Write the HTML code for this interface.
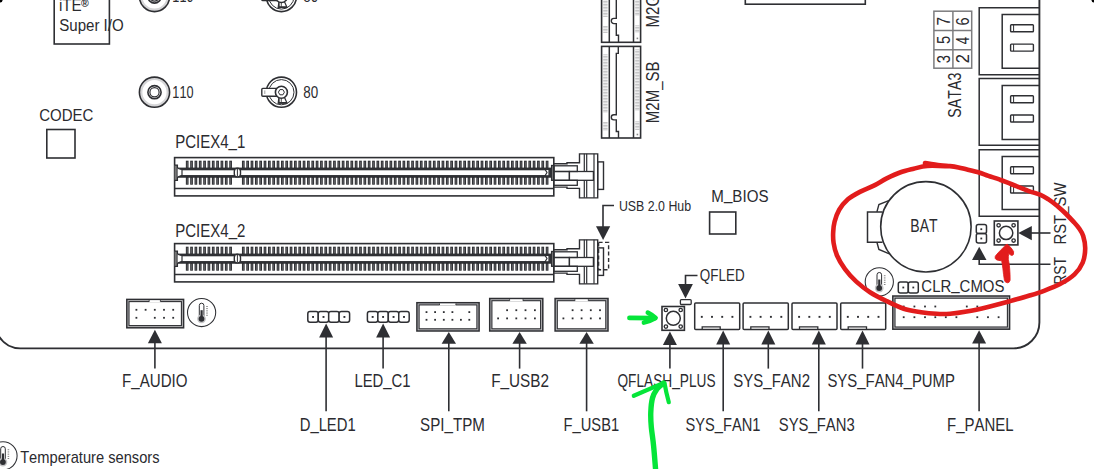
<!DOCTYPE html>
<html><head><meta charset="utf-8"><style>
html,body{margin:0;padding:0;background:#fff;}
body{width:1094px;height:469px;overflow:hidden;}
svg{display:block;}
text{font-family:"Liberation Sans",sans-serif;font-kerning:none;}
</style></head><body>
<svg width="1094" height="469" viewBox="0 0 1094 469">
<rect width="1094" height="469" fill="#fff"/>
<path d="M1039.4 -2 L1039.4 322.5 A25.8 25.8 0 0 1 1013.6 348.35 L21 348.35 A25.3 25.3 0 0 1 -1 336.5" fill="none" stroke="#2e2f33" stroke-width="1.9"/>
<rect x="54.20" y="-6.00" width="55.20" height="50.00" rx="0" fill="none" stroke="#2e2f33" stroke-width="1.6" />
<text x="58.88" y="10.80" font-size="16.8" textLength="22.77" lengthAdjust="spacingAndGlyphs" fill="#2b2b2f" >iTE</text>
<text x="81.0" y="7.2" font-size="10.5" font-weight="bold" fill="#2b2b2f">®</text>
<text x="59.22" y="30.60" font-size="16.8" textLength="64.51" lengthAdjust="spacingAndGlyphs" fill="#2b2b2f" >Super I/O</text>
<circle cx="154.5" cy="-3.5" r="13.4" fill="none" stroke="#d6d6d8" stroke-width="2.6"/>
<circle cx="154.5" cy="-3.5" r="15.1" fill="none" stroke="#2e2f33" stroke-width="1.6"/>
<circle cx="154.5" cy="-3.5" r="6.6" fill="none" stroke="#2e2f33" stroke-width="1.6"/>
<circle cx="154.5" cy="-3.5" r="4.6" fill="none" stroke="#2e2f33" stroke-width="1.2"/>
<circle cx="154.5" cy="92.2" r="13.4" fill="none" stroke="#d6d6d8" stroke-width="2.6"/>
<circle cx="154.5" cy="92.2" r="15.1" fill="none" stroke="#2e2f33" stroke-width="1.6"/>
<circle cx="154.5" cy="92.2" r="6.6" fill="none" stroke="#2e2f33" stroke-width="1.6"/>
<circle cx="154.5" cy="92.2" r="4.6" fill="none" stroke="#2e2f33" stroke-width="1.2"/>
<circle cx="281.4" cy="-3.5" r="15.1" fill="none" stroke="#2e2f33" stroke-width="1.6"/>
<circle cx="281.4" cy="-3.5" r="12.6" fill="none" stroke="#2e2f33" stroke-width="1.0"/>
<path d="M278.9 1.5 L278.2 7.4 L287.0 7.4 L284.4 1.5 Z" fill="#fff" stroke="#2e2f33" stroke-width="1.2"/>
<path d="M279.79999999999995 2.5 L279.5 7.0 M281.5 2.5 L281.29999999999995 7.0" stroke="#555" stroke-width="0.9"/>
<path d="M278.2 7.1 L287.0 7.1" stroke="#2e2f33" stroke-width="1.6"/>
<rect x="261.79999999999995" y="-7.3" width="15.6" height="7.8" rx="1" fill="#fff" stroke="#2e2f33" stroke-width="1.4"/>
<line x1="264.79999999999995" y1="-5.3" x2="264.79999999999995" y2="-1.7" stroke="#888" stroke-width="0.8"/>
<circle cx="281.4" cy="-3.5" r="6" fill="#fff" stroke="#2e2f33" stroke-width="1.6"/>
<path d="M278.4 -3.5 L279.9 -6.1 L282.9 -6.1 L284.4 -3.5 L282.9 -0.8999999999999999 L279.9 -0.8999999999999999 Z" fill="none" stroke="#2e2f33" stroke-width="1.0"/>
<circle cx="281.4" cy="92.2" r="15.1" fill="none" stroke="#2e2f33" stroke-width="1.6"/>
<circle cx="281.4" cy="92.2" r="12.6" fill="none" stroke="#2e2f33" stroke-width="1.0"/>
<path d="M278.9 97.2 L278.2 103.10000000000001 L287.0 103.10000000000001 L284.4 97.2 Z" fill="#fff" stroke="#2e2f33" stroke-width="1.2"/>
<path d="M279.79999999999995 98.2 L279.5 102.7 M281.5 98.2 L281.29999999999995 102.7" stroke="#555" stroke-width="0.9"/>
<path d="M278.2 102.8 L287.0 102.8" stroke="#2e2f33" stroke-width="1.6"/>
<rect x="261.79999999999995" y="88.4" width="15.6" height="7.8" rx="1" fill="#fff" stroke="#2e2f33" stroke-width="1.4"/>
<line x1="264.79999999999995" y1="90.4" x2="264.79999999999995" y2="94.0" stroke="#888" stroke-width="0.8"/>
<circle cx="281.4" cy="92.2" r="6" fill="#fff" stroke="#2e2f33" stroke-width="1.6"/>
<path d="M278.4 92.2 L279.9 89.60000000000001 L282.9 89.60000000000001 L284.4 92.2 L282.9 94.8 L279.9 94.8 Z" fill="none" stroke="#2e2f33" stroke-width="1.0"/>
<text x="172.33" y="97.60" font-size="16" textLength="21.16" lengthAdjust="spacingAndGlyphs" fill="#2b2b2f" >110</text>
<text x="172.33" y="1.90" font-size="16" textLength="21.16" lengthAdjust="spacingAndGlyphs" fill="#2b2b2f" >110</text>
<text x="303.22" y="97.60" font-size="16" textLength="14.91" lengthAdjust="spacingAndGlyphs" fill="#2b2b2f" >80</text>
<text x="303.22" y="1.90" font-size="16" textLength="14.91" lengthAdjust="spacingAndGlyphs" fill="#2b2b2f" >80</text>
<text x="39.14" y="121.00" font-size="16.6" textLength="54.23" lengthAdjust="spacingAndGlyphs" fill="#2b2b2f" >CODEC</text>
<rect x="46.80" y="129.50" width="28.20" height="28.50" rx="0" fill="none" stroke="#2e2f33" stroke-width="1.6" />
<rect x="745.30" y="-10.00" width="120.00" height="14.20" rx="0" fill="none" stroke="#2e2f33" stroke-width="1.6" />
<text x="175.17" y="148.30" font-size="18.2" textLength="70.17" lengthAdjust="spacingAndGlyphs" fill="#2b2b2f" >PCIEX4<tspan dy="-2.1">_</tspan><tspan dy="2.1">1</tspan></text>
<rect x="174.60" y="157.60" width="379.20" height="38.30" rx="0" fill="none" stroke="#2e2f33" stroke-width="1.6" />
<line x1="174.6" y1="188.4" x2="553.8" y2="188.4" stroke="#2e2f33" stroke-width="1.5" />
<rect x="185.85" y="160.70" width="2.70" height="8.00" fill="#2e2f33" />
<rect x="185.85" y="176.90" width="2.70" height="7.80" fill="#2e2f33" />
<rect x="186.85" y="161.70" width="0.70" height="6.00" fill="#707074" />
<rect x="186.85" y="178.10" width="0.70" height="6.00" fill="#707074" />
<rect x="190.19" y="160.70" width="2.70" height="8.00" fill="#2e2f33" />
<rect x="190.19" y="176.90" width="2.70" height="7.80" fill="#2e2f33" />
<rect x="191.19" y="161.70" width="0.70" height="6.00" fill="#707074" />
<rect x="191.19" y="178.10" width="0.70" height="6.00" fill="#707074" />
<rect x="194.53" y="160.70" width="2.70" height="8.00" fill="#2e2f33" />
<rect x="194.53" y="176.90" width="2.70" height="7.80" fill="#2e2f33" />
<rect x="195.53" y="161.70" width="0.70" height="6.00" fill="#707074" />
<rect x="195.53" y="178.10" width="0.70" height="6.00" fill="#707074" />
<rect x="198.87" y="160.70" width="2.70" height="8.00" fill="#2e2f33" />
<rect x="198.87" y="176.90" width="2.70" height="7.80" fill="#2e2f33" />
<rect x="199.87" y="161.70" width="0.70" height="6.00" fill="#707074" />
<rect x="199.87" y="178.10" width="0.70" height="6.00" fill="#707074" />
<rect x="203.21" y="160.70" width="2.70" height="8.00" fill="#2e2f33" />
<rect x="203.21" y="176.90" width="2.70" height="7.80" fill="#2e2f33" />
<rect x="204.21" y="161.70" width="0.70" height="6.00" fill="#707074" />
<rect x="204.21" y="178.10" width="0.70" height="6.00" fill="#707074" />
<rect x="207.55" y="160.70" width="2.70" height="8.00" fill="#2e2f33" />
<rect x="207.55" y="176.90" width="2.70" height="7.80" fill="#2e2f33" />
<rect x="208.55" y="161.70" width="0.70" height="6.00" fill="#707074" />
<rect x="208.55" y="178.10" width="0.70" height="6.00" fill="#707074" />
<rect x="211.89" y="160.70" width="2.70" height="8.00" fill="#2e2f33" />
<rect x="211.89" y="176.90" width="2.70" height="7.80" fill="#2e2f33" />
<rect x="212.89" y="161.70" width="0.70" height="6.00" fill="#707074" />
<rect x="212.89" y="178.10" width="0.70" height="6.00" fill="#707074" />
<rect x="216.23" y="160.70" width="2.70" height="8.00" fill="#2e2f33" />
<rect x="216.23" y="176.90" width="2.70" height="7.80" fill="#2e2f33" />
<rect x="217.23" y="161.70" width="0.70" height="6.00" fill="#707074" />
<rect x="217.23" y="178.10" width="0.70" height="6.00" fill="#707074" />
<rect x="220.57" y="160.70" width="2.70" height="8.00" fill="#2e2f33" />
<rect x="220.57" y="176.90" width="2.70" height="7.80" fill="#2e2f33" />
<rect x="221.57" y="161.70" width="0.70" height="6.00" fill="#707074" />
<rect x="221.57" y="178.10" width="0.70" height="6.00" fill="#707074" />
<rect x="224.91" y="160.70" width="2.70" height="8.00" fill="#2e2f33" />
<rect x="224.91" y="176.90" width="2.70" height="7.80" fill="#2e2f33" />
<rect x="225.91" y="161.70" width="0.70" height="6.00" fill="#707074" />
<rect x="225.91" y="178.10" width="0.70" height="6.00" fill="#707074" />
<rect x="229.25" y="160.70" width="2.70" height="8.00" fill="#2e2f33" />
<rect x="229.25" y="176.90" width="2.70" height="7.80" fill="#2e2f33" />
<rect x="230.25" y="161.70" width="0.70" height="6.00" fill="#707074" />
<rect x="230.25" y="178.10" width="0.70" height="6.00" fill="#707074" />
<rect x="241.95" y="160.70" width="2.70" height="8.00" fill="#2e2f33" />
<rect x="241.95" y="176.90" width="2.70" height="7.80" fill="#2e2f33" />
<rect x="242.95" y="161.70" width="0.70" height="6.00" fill="#707074" />
<rect x="242.95" y="178.10" width="0.70" height="6.00" fill="#707074" />
<rect x="246.29" y="160.70" width="2.70" height="8.00" fill="#2e2f33" />
<rect x="246.29" y="176.90" width="2.70" height="7.80" fill="#2e2f33" />
<rect x="247.29" y="161.70" width="0.70" height="6.00" fill="#707074" />
<rect x="247.29" y="178.10" width="0.70" height="6.00" fill="#707074" />
<rect x="250.63" y="160.70" width="2.70" height="8.00" fill="#2e2f33" />
<rect x="250.63" y="176.90" width="2.70" height="7.80" fill="#2e2f33" />
<rect x="251.63" y="161.70" width="0.70" height="6.00" fill="#707074" />
<rect x="251.63" y="178.10" width="0.70" height="6.00" fill="#707074" />
<rect x="254.97" y="160.70" width="2.70" height="8.00" fill="#2e2f33" />
<rect x="254.97" y="176.90" width="2.70" height="7.80" fill="#2e2f33" />
<rect x="255.97" y="161.70" width="0.70" height="6.00" fill="#707074" />
<rect x="255.97" y="178.10" width="0.70" height="6.00" fill="#707074" />
<rect x="259.31" y="160.70" width="2.70" height="8.00" fill="#2e2f33" />
<rect x="259.31" y="176.90" width="2.70" height="7.80" fill="#2e2f33" />
<rect x="260.31" y="161.70" width="0.70" height="6.00" fill="#707074" />
<rect x="260.31" y="178.10" width="0.70" height="6.00" fill="#707074" />
<rect x="263.65" y="160.70" width="2.70" height="8.00" fill="#2e2f33" />
<rect x="263.65" y="176.90" width="2.70" height="7.80" fill="#2e2f33" />
<rect x="264.65" y="161.70" width="0.70" height="6.00" fill="#707074" />
<rect x="264.65" y="178.10" width="0.70" height="6.00" fill="#707074" />
<rect x="267.99" y="160.70" width="2.70" height="8.00" fill="#2e2f33" />
<rect x="267.99" y="176.90" width="2.70" height="7.80" fill="#2e2f33" />
<rect x="268.99" y="161.70" width="0.70" height="6.00" fill="#707074" />
<rect x="268.99" y="178.10" width="0.70" height="6.00" fill="#707074" />
<rect x="272.33" y="160.70" width="2.70" height="8.00" fill="#2e2f33" />
<rect x="272.33" y="176.90" width="2.70" height="7.80" fill="#2e2f33" />
<rect x="273.33" y="161.70" width="0.70" height="6.00" fill="#707074" />
<rect x="273.33" y="178.10" width="0.70" height="6.00" fill="#707074" />
<rect x="276.67" y="160.70" width="2.70" height="8.00" fill="#2e2f33" />
<rect x="276.67" y="176.90" width="2.70" height="7.80" fill="#2e2f33" />
<rect x="277.67" y="161.70" width="0.70" height="6.00" fill="#707074" />
<rect x="277.67" y="178.10" width="0.70" height="6.00" fill="#707074" />
<rect x="281.01" y="160.70" width="2.70" height="8.00" fill="#2e2f33" />
<rect x="281.01" y="176.90" width="2.70" height="7.80" fill="#2e2f33" />
<rect x="282.01" y="161.70" width="0.70" height="6.00" fill="#707074" />
<rect x="282.01" y="178.10" width="0.70" height="6.00" fill="#707074" />
<rect x="285.35" y="160.70" width="2.70" height="8.00" fill="#2e2f33" />
<rect x="285.35" y="176.90" width="2.70" height="7.80" fill="#2e2f33" />
<rect x="286.35" y="161.70" width="0.70" height="6.00" fill="#707074" />
<rect x="286.35" y="178.10" width="0.70" height="6.00" fill="#707074" />
<rect x="289.69" y="160.70" width="2.70" height="8.00" fill="#2e2f33" />
<rect x="289.69" y="176.90" width="2.70" height="7.80" fill="#2e2f33" />
<rect x="290.69" y="161.70" width="0.70" height="6.00" fill="#707074" />
<rect x="290.69" y="178.10" width="0.70" height="6.00" fill="#707074" />
<rect x="294.03" y="160.70" width="2.70" height="8.00" fill="#2e2f33" />
<rect x="294.03" y="176.90" width="2.70" height="7.80" fill="#2e2f33" />
<rect x="295.03" y="161.70" width="0.70" height="6.00" fill="#707074" />
<rect x="295.03" y="178.10" width="0.70" height="6.00" fill="#707074" />
<rect x="298.37" y="160.70" width="2.70" height="8.00" fill="#2e2f33" />
<rect x="298.37" y="176.90" width="2.70" height="7.80" fill="#2e2f33" />
<rect x="299.37" y="161.70" width="0.70" height="6.00" fill="#707074" />
<rect x="299.37" y="178.10" width="0.70" height="6.00" fill="#707074" />
<rect x="302.71" y="160.70" width="2.70" height="8.00" fill="#2e2f33" />
<rect x="302.71" y="176.90" width="2.70" height="7.80" fill="#2e2f33" />
<rect x="303.71" y="161.70" width="0.70" height="6.00" fill="#707074" />
<rect x="303.71" y="178.10" width="0.70" height="6.00" fill="#707074" />
<rect x="307.05" y="160.70" width="2.70" height="8.00" fill="#2e2f33" />
<rect x="307.05" y="176.90" width="2.70" height="7.80" fill="#2e2f33" />
<rect x="308.05" y="161.70" width="0.70" height="6.00" fill="#707074" />
<rect x="308.05" y="178.10" width="0.70" height="6.00" fill="#707074" />
<rect x="311.39" y="160.70" width="2.70" height="8.00" fill="#2e2f33" />
<rect x="311.39" y="176.90" width="2.70" height="7.80" fill="#2e2f33" />
<rect x="312.39" y="161.70" width="0.70" height="6.00" fill="#707074" />
<rect x="312.39" y="178.10" width="0.70" height="6.00" fill="#707074" />
<rect x="315.73" y="160.70" width="2.70" height="8.00" fill="#2e2f33" />
<rect x="315.73" y="176.90" width="2.70" height="7.80" fill="#2e2f33" />
<rect x="316.73" y="161.70" width="0.70" height="6.00" fill="#707074" />
<rect x="316.73" y="178.10" width="0.70" height="6.00" fill="#707074" />
<rect x="320.07" y="160.70" width="2.70" height="8.00" fill="#2e2f33" />
<rect x="320.07" y="176.90" width="2.70" height="7.80" fill="#2e2f33" />
<rect x="321.07" y="161.70" width="0.70" height="6.00" fill="#707074" />
<rect x="321.07" y="178.10" width="0.70" height="6.00" fill="#707074" />
<rect x="324.41" y="160.70" width="2.70" height="8.00" fill="#2e2f33" />
<rect x="324.41" y="176.90" width="2.70" height="7.80" fill="#2e2f33" />
<rect x="325.41" y="161.70" width="0.70" height="6.00" fill="#707074" />
<rect x="325.41" y="178.10" width="0.70" height="6.00" fill="#707074" />
<rect x="328.75" y="160.70" width="2.70" height="8.00" fill="#2e2f33" />
<rect x="328.75" y="176.90" width="2.70" height="7.80" fill="#2e2f33" />
<rect x="329.75" y="161.70" width="0.70" height="6.00" fill="#707074" />
<rect x="329.75" y="178.10" width="0.70" height="6.00" fill="#707074" />
<rect x="333.09" y="160.70" width="2.70" height="8.00" fill="#2e2f33" />
<rect x="333.09" y="176.90" width="2.70" height="7.80" fill="#2e2f33" />
<rect x="334.09" y="161.70" width="0.70" height="6.00" fill="#707074" />
<rect x="334.09" y="178.10" width="0.70" height="6.00" fill="#707074" />
<rect x="337.43" y="160.70" width="2.70" height="8.00" fill="#2e2f33" />
<rect x="337.43" y="176.90" width="2.70" height="7.80" fill="#2e2f33" />
<rect x="338.43" y="161.70" width="0.70" height="6.00" fill="#707074" />
<rect x="338.43" y="178.10" width="0.70" height="6.00" fill="#707074" />
<rect x="341.77" y="160.70" width="2.70" height="8.00" fill="#2e2f33" />
<rect x="341.77" y="176.90" width="2.70" height="7.80" fill="#2e2f33" />
<rect x="342.77" y="161.70" width="0.70" height="6.00" fill="#707074" />
<rect x="342.77" y="178.10" width="0.70" height="6.00" fill="#707074" />
<rect x="346.11" y="160.70" width="2.70" height="8.00" fill="#2e2f33" />
<rect x="346.11" y="176.90" width="2.70" height="7.80" fill="#2e2f33" />
<rect x="347.11" y="161.70" width="0.70" height="6.00" fill="#707074" />
<rect x="347.11" y="178.10" width="0.70" height="6.00" fill="#707074" />
<rect x="350.45" y="160.70" width="2.70" height="8.00" fill="#2e2f33" />
<rect x="350.45" y="176.90" width="2.70" height="7.80" fill="#2e2f33" />
<rect x="351.45" y="161.70" width="0.70" height="6.00" fill="#707074" />
<rect x="351.45" y="178.10" width="0.70" height="6.00" fill="#707074" />
<rect x="354.79" y="160.70" width="2.70" height="8.00" fill="#2e2f33" />
<rect x="354.79" y="176.90" width="2.70" height="7.80" fill="#2e2f33" />
<rect x="355.79" y="161.70" width="0.70" height="6.00" fill="#707074" />
<rect x="355.79" y="178.10" width="0.70" height="6.00" fill="#707074" />
<rect x="359.13" y="160.70" width="2.70" height="8.00" fill="#2e2f33" />
<rect x="359.13" y="176.90" width="2.70" height="7.80" fill="#2e2f33" />
<rect x="360.13" y="161.70" width="0.70" height="6.00" fill="#707074" />
<rect x="360.13" y="178.10" width="0.70" height="6.00" fill="#707074" />
<rect x="363.47" y="160.70" width="2.70" height="8.00" fill="#2e2f33" />
<rect x="363.47" y="176.90" width="2.70" height="7.80" fill="#2e2f33" />
<rect x="364.47" y="161.70" width="0.70" height="6.00" fill="#707074" />
<rect x="364.47" y="178.10" width="0.70" height="6.00" fill="#707074" />
<rect x="367.81" y="160.70" width="2.70" height="8.00" fill="#2e2f33" />
<rect x="367.81" y="176.90" width="2.70" height="7.80" fill="#2e2f33" />
<rect x="368.81" y="161.70" width="0.70" height="6.00" fill="#707074" />
<rect x="368.81" y="178.10" width="0.70" height="6.00" fill="#707074" />
<rect x="372.15" y="160.70" width="2.70" height="8.00" fill="#2e2f33" />
<rect x="372.15" y="176.90" width="2.70" height="7.80" fill="#2e2f33" />
<rect x="373.15" y="161.70" width="0.70" height="6.00" fill="#707074" />
<rect x="373.15" y="178.10" width="0.70" height="6.00" fill="#707074" />
<rect x="376.49" y="160.70" width="2.70" height="8.00" fill="#2e2f33" />
<rect x="376.49" y="176.90" width="2.70" height="7.80" fill="#2e2f33" />
<rect x="377.49" y="161.70" width="0.70" height="6.00" fill="#707074" />
<rect x="377.49" y="178.10" width="0.70" height="6.00" fill="#707074" />
<rect x="380.83" y="160.70" width="2.70" height="8.00" fill="#2e2f33" />
<rect x="380.83" y="176.90" width="2.70" height="7.80" fill="#2e2f33" />
<rect x="381.83" y="161.70" width="0.70" height="6.00" fill="#707074" />
<rect x="381.83" y="178.10" width="0.70" height="6.00" fill="#707074" />
<rect x="385.17" y="160.70" width="2.70" height="8.00" fill="#2e2f33" />
<rect x="385.17" y="176.90" width="2.70" height="7.80" fill="#2e2f33" />
<rect x="386.17" y="161.70" width="0.70" height="6.00" fill="#707074" />
<rect x="386.17" y="178.10" width="0.70" height="6.00" fill="#707074" />
<rect x="389.51" y="160.70" width="2.70" height="8.00" fill="#2e2f33" />
<rect x="389.51" y="176.90" width="2.70" height="7.80" fill="#2e2f33" />
<rect x="390.51" y="161.70" width="0.70" height="6.00" fill="#707074" />
<rect x="390.51" y="178.10" width="0.70" height="6.00" fill="#707074" />
<rect x="393.85" y="160.70" width="2.70" height="8.00" fill="#2e2f33" />
<rect x="393.85" y="176.90" width="2.70" height="7.80" fill="#2e2f33" />
<rect x="394.85" y="161.70" width="0.70" height="6.00" fill="#707074" />
<rect x="394.85" y="178.10" width="0.70" height="6.00" fill="#707074" />
<rect x="398.19" y="160.70" width="2.70" height="8.00" fill="#2e2f33" />
<rect x="398.19" y="176.90" width="2.70" height="7.80" fill="#2e2f33" />
<rect x="399.19" y="161.70" width="0.70" height="6.00" fill="#707074" />
<rect x="399.19" y="178.10" width="0.70" height="6.00" fill="#707074" />
<rect x="402.53" y="160.70" width="2.70" height="8.00" fill="#2e2f33" />
<rect x="402.53" y="176.90" width="2.70" height="7.80" fill="#2e2f33" />
<rect x="403.53" y="161.70" width="0.70" height="6.00" fill="#707074" />
<rect x="403.53" y="178.10" width="0.70" height="6.00" fill="#707074" />
<rect x="406.87" y="160.70" width="2.70" height="8.00" fill="#2e2f33" />
<rect x="406.87" y="176.90" width="2.70" height="7.80" fill="#2e2f33" />
<rect x="407.87" y="161.70" width="0.70" height="6.00" fill="#707074" />
<rect x="407.87" y="178.10" width="0.70" height="6.00" fill="#707074" />
<rect x="411.21" y="160.70" width="2.70" height="8.00" fill="#2e2f33" />
<rect x="411.21" y="176.90" width="2.70" height="7.80" fill="#2e2f33" />
<rect x="412.21" y="161.70" width="0.70" height="6.00" fill="#707074" />
<rect x="412.21" y="178.10" width="0.70" height="6.00" fill="#707074" />
<rect x="415.55" y="160.70" width="2.70" height="8.00" fill="#2e2f33" />
<rect x="415.55" y="176.90" width="2.70" height="7.80" fill="#2e2f33" />
<rect x="416.55" y="161.70" width="0.70" height="6.00" fill="#707074" />
<rect x="416.55" y="178.10" width="0.70" height="6.00" fill="#707074" />
<rect x="419.89" y="160.70" width="2.70" height="8.00" fill="#2e2f33" />
<rect x="419.89" y="176.90" width="2.70" height="7.80" fill="#2e2f33" />
<rect x="420.89" y="161.70" width="0.70" height="6.00" fill="#707074" />
<rect x="420.89" y="178.10" width="0.70" height="6.00" fill="#707074" />
<rect x="424.23" y="160.70" width="2.70" height="8.00" fill="#2e2f33" />
<rect x="424.23" y="176.90" width="2.70" height="7.80" fill="#2e2f33" />
<rect x="425.23" y="161.70" width="0.70" height="6.00" fill="#707074" />
<rect x="425.23" y="178.10" width="0.70" height="6.00" fill="#707074" />
<rect x="428.57" y="160.70" width="2.70" height="8.00" fill="#2e2f33" />
<rect x="428.57" y="176.90" width="2.70" height="7.80" fill="#2e2f33" />
<rect x="429.57" y="161.70" width="0.70" height="6.00" fill="#707074" />
<rect x="429.57" y="178.10" width="0.70" height="6.00" fill="#707074" />
<rect x="432.91" y="160.70" width="2.70" height="8.00" fill="#2e2f33" />
<rect x="432.91" y="176.90" width="2.70" height="7.80" fill="#2e2f33" />
<rect x="433.91" y="161.70" width="0.70" height="6.00" fill="#707074" />
<rect x="433.91" y="178.10" width="0.70" height="6.00" fill="#707074" />
<rect x="437.25" y="160.70" width="2.70" height="8.00" fill="#2e2f33" />
<rect x="437.25" y="176.90" width="2.70" height="7.80" fill="#2e2f33" />
<rect x="438.25" y="161.70" width="0.70" height="6.00" fill="#707074" />
<rect x="438.25" y="178.10" width="0.70" height="6.00" fill="#707074" />
<rect x="441.59" y="160.70" width="2.70" height="8.00" fill="#2e2f33" />
<rect x="441.59" y="176.90" width="2.70" height="7.80" fill="#2e2f33" />
<rect x="442.59" y="161.70" width="0.70" height="6.00" fill="#707074" />
<rect x="442.59" y="178.10" width="0.70" height="6.00" fill="#707074" />
<rect x="445.93" y="160.70" width="2.70" height="8.00" fill="#2e2f33" />
<rect x="445.93" y="176.90" width="2.70" height="7.80" fill="#2e2f33" />
<rect x="446.93" y="161.70" width="0.70" height="6.00" fill="#707074" />
<rect x="446.93" y="178.10" width="0.70" height="6.00" fill="#707074" />
<rect x="450.27" y="160.70" width="2.70" height="8.00" fill="#2e2f33" />
<rect x="450.27" y="176.90" width="2.70" height="7.80" fill="#2e2f33" />
<rect x="451.27" y="161.70" width="0.70" height="6.00" fill="#707074" />
<rect x="451.27" y="178.10" width="0.70" height="6.00" fill="#707074" />
<rect x="454.61" y="160.70" width="2.70" height="8.00" fill="#2e2f33" />
<rect x="454.61" y="176.90" width="2.70" height="7.80" fill="#2e2f33" />
<rect x="455.61" y="161.70" width="0.70" height="6.00" fill="#707074" />
<rect x="455.61" y="178.10" width="0.70" height="6.00" fill="#707074" />
<rect x="458.95" y="160.70" width="2.70" height="8.00" fill="#2e2f33" />
<rect x="458.95" y="176.90" width="2.70" height="7.80" fill="#2e2f33" />
<rect x="459.95" y="161.70" width="0.70" height="6.00" fill="#707074" />
<rect x="459.95" y="178.10" width="0.70" height="6.00" fill="#707074" />
<rect x="463.29" y="160.70" width="2.70" height="8.00" fill="#2e2f33" />
<rect x="463.29" y="176.90" width="2.70" height="7.80" fill="#2e2f33" />
<rect x="464.29" y="161.70" width="0.70" height="6.00" fill="#707074" />
<rect x="464.29" y="178.10" width="0.70" height="6.00" fill="#707074" />
<rect x="467.63" y="160.70" width="2.70" height="8.00" fill="#2e2f33" />
<rect x="467.63" y="176.90" width="2.70" height="7.80" fill="#2e2f33" />
<rect x="468.63" y="161.70" width="0.70" height="6.00" fill="#707074" />
<rect x="468.63" y="178.10" width="0.70" height="6.00" fill="#707074" />
<rect x="471.97" y="160.70" width="2.70" height="8.00" fill="#2e2f33" />
<rect x="471.97" y="176.90" width="2.70" height="7.80" fill="#2e2f33" />
<rect x="472.97" y="161.70" width="0.70" height="6.00" fill="#707074" />
<rect x="472.97" y="178.10" width="0.70" height="6.00" fill="#707074" />
<rect x="476.31" y="160.70" width="2.70" height="8.00" fill="#2e2f33" />
<rect x="476.31" y="176.90" width="2.70" height="7.80" fill="#2e2f33" />
<rect x="477.31" y="161.70" width="0.70" height="6.00" fill="#707074" />
<rect x="477.31" y="178.10" width="0.70" height="6.00" fill="#707074" />
<rect x="480.65" y="160.70" width="2.70" height="8.00" fill="#2e2f33" />
<rect x="480.65" y="176.90" width="2.70" height="7.80" fill="#2e2f33" />
<rect x="481.65" y="161.70" width="0.70" height="6.00" fill="#707074" />
<rect x="481.65" y="178.10" width="0.70" height="6.00" fill="#707074" />
<rect x="484.99" y="160.70" width="2.70" height="8.00" fill="#2e2f33" />
<rect x="484.99" y="176.90" width="2.70" height="7.80" fill="#2e2f33" />
<rect x="485.99" y="161.70" width="0.70" height="6.00" fill="#707074" />
<rect x="485.99" y="178.10" width="0.70" height="6.00" fill="#707074" />
<rect x="489.33" y="160.70" width="2.70" height="8.00" fill="#2e2f33" />
<rect x="489.33" y="176.90" width="2.70" height="7.80" fill="#2e2f33" />
<rect x="490.33" y="161.70" width="0.70" height="6.00" fill="#707074" />
<rect x="490.33" y="178.10" width="0.70" height="6.00" fill="#707074" />
<rect x="493.67" y="160.70" width="2.70" height="8.00" fill="#2e2f33" />
<rect x="493.67" y="176.90" width="2.70" height="7.80" fill="#2e2f33" />
<rect x="494.67" y="161.70" width="0.70" height="6.00" fill="#707074" />
<rect x="494.67" y="178.10" width="0.70" height="6.00" fill="#707074" />
<rect x="498.01" y="160.70" width="2.70" height="8.00" fill="#2e2f33" />
<rect x="498.01" y="176.90" width="2.70" height="7.80" fill="#2e2f33" />
<rect x="499.01" y="161.70" width="0.70" height="6.00" fill="#707074" />
<rect x="499.01" y="178.10" width="0.70" height="6.00" fill="#707074" />
<rect x="502.35" y="160.70" width="2.70" height="8.00" fill="#2e2f33" />
<rect x="502.35" y="176.90" width="2.70" height="7.80" fill="#2e2f33" />
<rect x="503.35" y="161.70" width="0.70" height="6.00" fill="#707074" />
<rect x="503.35" y="178.10" width="0.70" height="6.00" fill="#707074" />
<rect x="506.69" y="160.70" width="2.70" height="8.00" fill="#2e2f33" />
<rect x="506.69" y="176.90" width="2.70" height="7.80" fill="#2e2f33" />
<rect x="507.69" y="161.70" width="0.70" height="6.00" fill="#707074" />
<rect x="507.69" y="178.10" width="0.70" height="6.00" fill="#707074" />
<rect x="511.03" y="160.70" width="2.70" height="8.00" fill="#2e2f33" />
<rect x="511.03" y="176.90" width="2.70" height="7.80" fill="#2e2f33" />
<rect x="512.03" y="161.70" width="0.70" height="6.00" fill="#707074" />
<rect x="512.03" y="178.10" width="0.70" height="6.00" fill="#707074" />
<rect x="515.37" y="160.70" width="2.70" height="8.00" fill="#2e2f33" />
<rect x="515.37" y="176.90" width="2.70" height="7.80" fill="#2e2f33" />
<rect x="516.37" y="161.70" width="0.70" height="6.00" fill="#707074" />
<rect x="516.37" y="178.10" width="0.70" height="6.00" fill="#707074" />
<rect x="519.71" y="160.70" width="2.70" height="8.00" fill="#2e2f33" />
<rect x="519.71" y="176.90" width="2.70" height="7.80" fill="#2e2f33" />
<rect x="520.71" y="161.70" width="0.70" height="6.00" fill="#707074" />
<rect x="520.71" y="178.10" width="0.70" height="6.00" fill="#707074" />
<rect x="524.05" y="160.70" width="2.70" height="8.00" fill="#2e2f33" />
<rect x="524.05" y="176.90" width="2.70" height="7.80" fill="#2e2f33" />
<rect x="525.05" y="161.70" width="0.70" height="6.00" fill="#707074" />
<rect x="525.05" y="178.10" width="0.70" height="6.00" fill="#707074" />
<rect x="528.39" y="160.70" width="2.70" height="8.00" fill="#2e2f33" />
<rect x="528.39" y="176.90" width="2.70" height="7.80" fill="#2e2f33" />
<rect x="529.39" y="161.70" width="0.70" height="6.00" fill="#707074" />
<rect x="529.39" y="178.10" width="0.70" height="6.00" fill="#707074" />
<rect x="532.73" y="160.70" width="2.70" height="8.00" fill="#2e2f33" />
<rect x="532.73" y="176.90" width="2.70" height="7.80" fill="#2e2f33" />
<rect x="533.73" y="161.70" width="0.70" height="6.00" fill="#707074" />
<rect x="533.73" y="178.10" width="0.70" height="6.00" fill="#707074" />
<rect x="537.07" y="160.70" width="2.70" height="8.00" fill="#2e2f33" />
<rect x="537.07" y="176.90" width="2.70" height="7.80" fill="#2e2f33" />
<rect x="538.07" y="161.70" width="0.70" height="6.00" fill="#707074" />
<rect x="538.07" y="178.10" width="0.70" height="6.00" fill="#707074" />
<rect x="541.41" y="160.70" width="2.70" height="8.00" fill="#2e2f33" />
<rect x="541.41" y="176.90" width="2.70" height="7.80" fill="#2e2f33" />
<rect x="542.41" y="161.70" width="0.70" height="6.00" fill="#707074" />
<rect x="542.41" y="178.10" width="0.70" height="6.00" fill="#707074" />
<rect x="545.75" y="160.70" width="2.70" height="8.00" fill="#2e2f33" />
<rect x="545.75" y="176.90" width="2.70" height="7.80" fill="#2e2f33" />
<rect x="546.75" y="161.70" width="0.70" height="6.00" fill="#707074" />
<rect x="546.75" y="178.10" width="0.70" height="6.00" fill="#707074" />
<rect x="179.5" y="168.95000000000002" width="371" height="7.45" fill="#fff" stroke="#2e2f33" stroke-width="2.7"/>
<rect x="234.3" y="168.20000000000002" width="6.2" height="8.7" rx="3" fill="#fff" stroke="#2e2f33" stroke-width="1.4"/>
<line x1="237.4" y1="168.8" x2="237.4" y2="176.3" stroke="#2e2f33" stroke-width="1.0" />
<path d="M174.6 165.10000000000002 L177.4 165.10000000000002 L177.4 180.3 L174.6 180.3" fill="#777" stroke="#2e2f33" stroke-width="1.3"/>
<path d="M177.6 168.10000000000002 L182 169.8 L182 175.3 L177.6 177.10000000000002" fill="#fff" stroke="#2e2f33" stroke-width="1.2"/>
<path d="M545 169.3 L549 169.3 L549 175.8 L545 175.8 L547 172.5 Z" fill="#fff" stroke="#2e2f33" stroke-width="1.2"/>
<path d="M553.8 163.70000000000002 L567.0 163.70000000000002 L567.0 162.70000000000002 L579.5 162.70000000000002 L579.5 153.85000000000002 L597.7 153.85000000000002 L597.7 197.85000000000002 L579.5 197.85000000000002 L579.5 188.4 L567.0 188.4 L567.0 187.10000000000002 L553.8 187.10000000000002" fill="none" stroke="#2e2f33" stroke-width="1.4"/>
<rect x="551.60" y="165.50" width="2.20" height="14.80" rx="0" fill="#888" stroke="#2e2f33" stroke-width="1.3" />
<rect x="553.80" y="165.80" width="23.50" height="5.70" rx="0" fill="none" stroke="#2e2f33" stroke-width="1.3" />
<rect x="553.80" y="180.30" width="23.50" height="5.00" rx="0" fill="none" stroke="#2e2f33" stroke-width="1.3" />
<rect x="553.80" y="171.50" width="15.60" height="8.80" rx="0" fill="none" stroke="#2e2f33" stroke-width="1.3" />
<rect x="569.40" y="171.50" width="24.00" height="8.80" rx="0" fill="none" stroke="#2e2f33" stroke-width="1.3" />
<line x1="584.3" y1="153.85000000000002" x2="584.3" y2="171.5" stroke="#2e2f33" stroke-width="1.2" />
<line x1="586.7" y1="153.85000000000002" x2="586.7" y2="171.5" stroke="#2e2f33" stroke-width="1.2" />
<line x1="584.3" y1="180.3" x2="584.3" y2="197.85000000000002" stroke="#2e2f33" stroke-width="1.2" />
<line x1="586.7" y1="180.3" x2="586.7" y2="197.85000000000002" stroke="#2e2f33" stroke-width="1.2" />
<line x1="594.0" y1="153.85000000000002" x2="594.0" y2="197.85000000000002" stroke="#2e2f33" stroke-width="1.2" />
<rect x="597.70" y="161.90" width="5.80" height="27.50" rx="0" fill="none" stroke="#2e2f33" stroke-width="1.4" />
<text x="175.17" y="236.60" font-size="18.2" textLength="70.19" lengthAdjust="spacingAndGlyphs" fill="#2b2b2f" >PCIEX4<tspan dy="-2.1">_</tspan><tspan dy="2.1">2</tspan></text>
<rect x="174.60" y="243.60" width="379.20" height="38.30" rx="0" fill="none" stroke="#2e2f33" stroke-width="1.6" />
<line x1="174.6" y1="274.40000000000003" x2="553.8" y2="274.40000000000003" stroke="#2e2f33" stroke-width="1.5" />
<rect x="185.85" y="246.70" width="2.70" height="8.00" fill="#2e2f33" />
<rect x="185.85" y="262.90" width="2.70" height="7.80" fill="#2e2f33" />
<rect x="186.85" y="247.70" width="0.70" height="6.00" fill="#707074" />
<rect x="186.85" y="264.10" width="0.70" height="6.00" fill="#707074" />
<rect x="190.19" y="246.70" width="2.70" height="8.00" fill="#2e2f33" />
<rect x="190.19" y="262.90" width="2.70" height="7.80" fill="#2e2f33" />
<rect x="191.19" y="247.70" width="0.70" height="6.00" fill="#707074" />
<rect x="191.19" y="264.10" width="0.70" height="6.00" fill="#707074" />
<rect x="194.53" y="246.70" width="2.70" height="8.00" fill="#2e2f33" />
<rect x="194.53" y="262.90" width="2.70" height="7.80" fill="#2e2f33" />
<rect x="195.53" y="247.70" width="0.70" height="6.00" fill="#707074" />
<rect x="195.53" y="264.10" width="0.70" height="6.00" fill="#707074" />
<rect x="198.87" y="246.70" width="2.70" height="8.00" fill="#2e2f33" />
<rect x="198.87" y="262.90" width="2.70" height="7.80" fill="#2e2f33" />
<rect x="199.87" y="247.70" width="0.70" height="6.00" fill="#707074" />
<rect x="199.87" y="264.10" width="0.70" height="6.00" fill="#707074" />
<rect x="203.21" y="246.70" width="2.70" height="8.00" fill="#2e2f33" />
<rect x="203.21" y="262.90" width="2.70" height="7.80" fill="#2e2f33" />
<rect x="204.21" y="247.70" width="0.70" height="6.00" fill="#707074" />
<rect x="204.21" y="264.10" width="0.70" height="6.00" fill="#707074" />
<rect x="207.55" y="246.70" width="2.70" height="8.00" fill="#2e2f33" />
<rect x="207.55" y="262.90" width="2.70" height="7.80" fill="#2e2f33" />
<rect x="208.55" y="247.70" width="0.70" height="6.00" fill="#707074" />
<rect x="208.55" y="264.10" width="0.70" height="6.00" fill="#707074" />
<rect x="211.89" y="246.70" width="2.70" height="8.00" fill="#2e2f33" />
<rect x="211.89" y="262.90" width="2.70" height="7.80" fill="#2e2f33" />
<rect x="212.89" y="247.70" width="0.70" height="6.00" fill="#707074" />
<rect x="212.89" y="264.10" width="0.70" height="6.00" fill="#707074" />
<rect x="216.23" y="246.70" width="2.70" height="8.00" fill="#2e2f33" />
<rect x="216.23" y="262.90" width="2.70" height="7.80" fill="#2e2f33" />
<rect x="217.23" y="247.70" width="0.70" height="6.00" fill="#707074" />
<rect x="217.23" y="264.10" width="0.70" height="6.00" fill="#707074" />
<rect x="220.57" y="246.70" width="2.70" height="8.00" fill="#2e2f33" />
<rect x="220.57" y="262.90" width="2.70" height="7.80" fill="#2e2f33" />
<rect x="221.57" y="247.70" width="0.70" height="6.00" fill="#707074" />
<rect x="221.57" y="264.10" width="0.70" height="6.00" fill="#707074" />
<rect x="224.91" y="246.70" width="2.70" height="8.00" fill="#2e2f33" />
<rect x="224.91" y="262.90" width="2.70" height="7.80" fill="#2e2f33" />
<rect x="225.91" y="247.70" width="0.70" height="6.00" fill="#707074" />
<rect x="225.91" y="264.10" width="0.70" height="6.00" fill="#707074" />
<rect x="229.25" y="246.70" width="2.70" height="8.00" fill="#2e2f33" />
<rect x="229.25" y="262.90" width="2.70" height="7.80" fill="#2e2f33" />
<rect x="230.25" y="247.70" width="0.70" height="6.00" fill="#707074" />
<rect x="230.25" y="264.10" width="0.70" height="6.00" fill="#707074" />
<rect x="241.95" y="246.70" width="2.70" height="8.00" fill="#2e2f33" />
<rect x="241.95" y="262.90" width="2.70" height="7.80" fill="#2e2f33" />
<rect x="242.95" y="247.70" width="0.70" height="6.00" fill="#707074" />
<rect x="242.95" y="264.10" width="0.70" height="6.00" fill="#707074" />
<rect x="246.29" y="246.70" width="2.70" height="8.00" fill="#2e2f33" />
<rect x="246.29" y="262.90" width="2.70" height="7.80" fill="#2e2f33" />
<rect x="247.29" y="247.70" width="0.70" height="6.00" fill="#707074" />
<rect x="247.29" y="264.10" width="0.70" height="6.00" fill="#707074" />
<rect x="250.63" y="246.70" width="2.70" height="8.00" fill="#2e2f33" />
<rect x="250.63" y="262.90" width="2.70" height="7.80" fill="#2e2f33" />
<rect x="251.63" y="247.70" width="0.70" height="6.00" fill="#707074" />
<rect x="251.63" y="264.10" width="0.70" height="6.00" fill="#707074" />
<rect x="254.97" y="246.70" width="2.70" height="8.00" fill="#2e2f33" />
<rect x="254.97" y="262.90" width="2.70" height="7.80" fill="#2e2f33" />
<rect x="255.97" y="247.70" width="0.70" height="6.00" fill="#707074" />
<rect x="255.97" y="264.10" width="0.70" height="6.00" fill="#707074" />
<rect x="259.31" y="246.70" width="2.70" height="8.00" fill="#2e2f33" />
<rect x="259.31" y="262.90" width="2.70" height="7.80" fill="#2e2f33" />
<rect x="260.31" y="247.70" width="0.70" height="6.00" fill="#707074" />
<rect x="260.31" y="264.10" width="0.70" height="6.00" fill="#707074" />
<rect x="263.65" y="246.70" width="2.70" height="8.00" fill="#2e2f33" />
<rect x="263.65" y="262.90" width="2.70" height="7.80" fill="#2e2f33" />
<rect x="264.65" y="247.70" width="0.70" height="6.00" fill="#707074" />
<rect x="264.65" y="264.10" width="0.70" height="6.00" fill="#707074" />
<rect x="267.99" y="246.70" width="2.70" height="8.00" fill="#2e2f33" />
<rect x="267.99" y="262.90" width="2.70" height="7.80" fill="#2e2f33" />
<rect x="268.99" y="247.70" width="0.70" height="6.00" fill="#707074" />
<rect x="268.99" y="264.10" width="0.70" height="6.00" fill="#707074" />
<rect x="272.33" y="246.70" width="2.70" height="8.00" fill="#2e2f33" />
<rect x="272.33" y="262.90" width="2.70" height="7.80" fill="#2e2f33" />
<rect x="273.33" y="247.70" width="0.70" height="6.00" fill="#707074" />
<rect x="273.33" y="264.10" width="0.70" height="6.00" fill="#707074" />
<rect x="276.67" y="246.70" width="2.70" height="8.00" fill="#2e2f33" />
<rect x="276.67" y="262.90" width="2.70" height="7.80" fill="#2e2f33" />
<rect x="277.67" y="247.70" width="0.70" height="6.00" fill="#707074" />
<rect x="277.67" y="264.10" width="0.70" height="6.00" fill="#707074" />
<rect x="281.01" y="246.70" width="2.70" height="8.00" fill="#2e2f33" />
<rect x="281.01" y="262.90" width="2.70" height="7.80" fill="#2e2f33" />
<rect x="282.01" y="247.70" width="0.70" height="6.00" fill="#707074" />
<rect x="282.01" y="264.10" width="0.70" height="6.00" fill="#707074" />
<rect x="285.35" y="246.70" width="2.70" height="8.00" fill="#2e2f33" />
<rect x="285.35" y="262.90" width="2.70" height="7.80" fill="#2e2f33" />
<rect x="286.35" y="247.70" width="0.70" height="6.00" fill="#707074" />
<rect x="286.35" y="264.10" width="0.70" height="6.00" fill="#707074" />
<rect x="289.69" y="246.70" width="2.70" height="8.00" fill="#2e2f33" />
<rect x="289.69" y="262.90" width="2.70" height="7.80" fill="#2e2f33" />
<rect x="290.69" y="247.70" width="0.70" height="6.00" fill="#707074" />
<rect x="290.69" y="264.10" width="0.70" height="6.00" fill="#707074" />
<rect x="294.03" y="246.70" width="2.70" height="8.00" fill="#2e2f33" />
<rect x="294.03" y="262.90" width="2.70" height="7.80" fill="#2e2f33" />
<rect x="295.03" y="247.70" width="0.70" height="6.00" fill="#707074" />
<rect x="295.03" y="264.10" width="0.70" height="6.00" fill="#707074" />
<rect x="298.37" y="246.70" width="2.70" height="8.00" fill="#2e2f33" />
<rect x="298.37" y="262.90" width="2.70" height="7.80" fill="#2e2f33" />
<rect x="299.37" y="247.70" width="0.70" height="6.00" fill="#707074" />
<rect x="299.37" y="264.10" width="0.70" height="6.00" fill="#707074" />
<rect x="302.71" y="246.70" width="2.70" height="8.00" fill="#2e2f33" />
<rect x="302.71" y="262.90" width="2.70" height="7.80" fill="#2e2f33" />
<rect x="303.71" y="247.70" width="0.70" height="6.00" fill="#707074" />
<rect x="303.71" y="264.10" width="0.70" height="6.00" fill="#707074" />
<rect x="307.05" y="246.70" width="2.70" height="8.00" fill="#2e2f33" />
<rect x="307.05" y="262.90" width="2.70" height="7.80" fill="#2e2f33" />
<rect x="308.05" y="247.70" width="0.70" height="6.00" fill="#707074" />
<rect x="308.05" y="264.10" width="0.70" height="6.00" fill="#707074" />
<rect x="311.39" y="246.70" width="2.70" height="8.00" fill="#2e2f33" />
<rect x="311.39" y="262.90" width="2.70" height="7.80" fill="#2e2f33" />
<rect x="312.39" y="247.70" width="0.70" height="6.00" fill="#707074" />
<rect x="312.39" y="264.10" width="0.70" height="6.00" fill="#707074" />
<rect x="315.73" y="246.70" width="2.70" height="8.00" fill="#2e2f33" />
<rect x="315.73" y="262.90" width="2.70" height="7.80" fill="#2e2f33" />
<rect x="316.73" y="247.70" width="0.70" height="6.00" fill="#707074" />
<rect x="316.73" y="264.10" width="0.70" height="6.00" fill="#707074" />
<rect x="320.07" y="246.70" width="2.70" height="8.00" fill="#2e2f33" />
<rect x="320.07" y="262.90" width="2.70" height="7.80" fill="#2e2f33" />
<rect x="321.07" y="247.70" width="0.70" height="6.00" fill="#707074" />
<rect x="321.07" y="264.10" width="0.70" height="6.00" fill="#707074" />
<rect x="324.41" y="246.70" width="2.70" height="8.00" fill="#2e2f33" />
<rect x="324.41" y="262.90" width="2.70" height="7.80" fill="#2e2f33" />
<rect x="325.41" y="247.70" width="0.70" height="6.00" fill="#707074" />
<rect x="325.41" y="264.10" width="0.70" height="6.00" fill="#707074" />
<rect x="328.75" y="246.70" width="2.70" height="8.00" fill="#2e2f33" />
<rect x="328.75" y="262.90" width="2.70" height="7.80" fill="#2e2f33" />
<rect x="329.75" y="247.70" width="0.70" height="6.00" fill="#707074" />
<rect x="329.75" y="264.10" width="0.70" height="6.00" fill="#707074" />
<rect x="333.09" y="246.70" width="2.70" height="8.00" fill="#2e2f33" />
<rect x="333.09" y="262.90" width="2.70" height="7.80" fill="#2e2f33" />
<rect x="334.09" y="247.70" width="0.70" height="6.00" fill="#707074" />
<rect x="334.09" y="264.10" width="0.70" height="6.00" fill="#707074" />
<rect x="337.43" y="246.70" width="2.70" height="8.00" fill="#2e2f33" />
<rect x="337.43" y="262.90" width="2.70" height="7.80" fill="#2e2f33" />
<rect x="338.43" y="247.70" width="0.70" height="6.00" fill="#707074" />
<rect x="338.43" y="264.10" width="0.70" height="6.00" fill="#707074" />
<rect x="341.77" y="246.70" width="2.70" height="8.00" fill="#2e2f33" />
<rect x="341.77" y="262.90" width="2.70" height="7.80" fill="#2e2f33" />
<rect x="342.77" y="247.70" width="0.70" height="6.00" fill="#707074" />
<rect x="342.77" y="264.10" width="0.70" height="6.00" fill="#707074" />
<rect x="346.11" y="246.70" width="2.70" height="8.00" fill="#2e2f33" />
<rect x="346.11" y="262.90" width="2.70" height="7.80" fill="#2e2f33" />
<rect x="347.11" y="247.70" width="0.70" height="6.00" fill="#707074" />
<rect x="347.11" y="264.10" width="0.70" height="6.00" fill="#707074" />
<rect x="350.45" y="246.70" width="2.70" height="8.00" fill="#2e2f33" />
<rect x="350.45" y="262.90" width="2.70" height="7.80" fill="#2e2f33" />
<rect x="351.45" y="247.70" width="0.70" height="6.00" fill="#707074" />
<rect x="351.45" y="264.10" width="0.70" height="6.00" fill="#707074" />
<rect x="354.79" y="246.70" width="2.70" height="8.00" fill="#2e2f33" />
<rect x="354.79" y="262.90" width="2.70" height="7.80" fill="#2e2f33" />
<rect x="355.79" y="247.70" width="0.70" height="6.00" fill="#707074" />
<rect x="355.79" y="264.10" width="0.70" height="6.00" fill="#707074" />
<rect x="359.13" y="246.70" width="2.70" height="8.00" fill="#2e2f33" />
<rect x="359.13" y="262.90" width="2.70" height="7.80" fill="#2e2f33" />
<rect x="360.13" y="247.70" width="0.70" height="6.00" fill="#707074" />
<rect x="360.13" y="264.10" width="0.70" height="6.00" fill="#707074" />
<rect x="363.47" y="246.70" width="2.70" height="8.00" fill="#2e2f33" />
<rect x="363.47" y="262.90" width="2.70" height="7.80" fill="#2e2f33" />
<rect x="364.47" y="247.70" width="0.70" height="6.00" fill="#707074" />
<rect x="364.47" y="264.10" width="0.70" height="6.00" fill="#707074" />
<rect x="367.81" y="246.70" width="2.70" height="8.00" fill="#2e2f33" />
<rect x="367.81" y="262.90" width="2.70" height="7.80" fill="#2e2f33" />
<rect x="368.81" y="247.70" width="0.70" height="6.00" fill="#707074" />
<rect x="368.81" y="264.10" width="0.70" height="6.00" fill="#707074" />
<rect x="372.15" y="246.70" width="2.70" height="8.00" fill="#2e2f33" />
<rect x="372.15" y="262.90" width="2.70" height="7.80" fill="#2e2f33" />
<rect x="373.15" y="247.70" width="0.70" height="6.00" fill="#707074" />
<rect x="373.15" y="264.10" width="0.70" height="6.00" fill="#707074" />
<rect x="376.49" y="246.70" width="2.70" height="8.00" fill="#2e2f33" />
<rect x="376.49" y="262.90" width="2.70" height="7.80" fill="#2e2f33" />
<rect x="377.49" y="247.70" width="0.70" height="6.00" fill="#707074" />
<rect x="377.49" y="264.10" width="0.70" height="6.00" fill="#707074" />
<rect x="380.83" y="246.70" width="2.70" height="8.00" fill="#2e2f33" />
<rect x="380.83" y="262.90" width="2.70" height="7.80" fill="#2e2f33" />
<rect x="381.83" y="247.70" width="0.70" height="6.00" fill="#707074" />
<rect x="381.83" y="264.10" width="0.70" height="6.00" fill="#707074" />
<rect x="385.17" y="246.70" width="2.70" height="8.00" fill="#2e2f33" />
<rect x="385.17" y="262.90" width="2.70" height="7.80" fill="#2e2f33" />
<rect x="386.17" y="247.70" width="0.70" height="6.00" fill="#707074" />
<rect x="386.17" y="264.10" width="0.70" height="6.00" fill="#707074" />
<rect x="389.51" y="246.70" width="2.70" height="8.00" fill="#2e2f33" />
<rect x="389.51" y="262.90" width="2.70" height="7.80" fill="#2e2f33" />
<rect x="390.51" y="247.70" width="0.70" height="6.00" fill="#707074" />
<rect x="390.51" y="264.10" width="0.70" height="6.00" fill="#707074" />
<rect x="393.85" y="246.70" width="2.70" height="8.00" fill="#2e2f33" />
<rect x="393.85" y="262.90" width="2.70" height="7.80" fill="#2e2f33" />
<rect x="394.85" y="247.70" width="0.70" height="6.00" fill="#707074" />
<rect x="394.85" y="264.10" width="0.70" height="6.00" fill="#707074" />
<rect x="398.19" y="246.70" width="2.70" height="8.00" fill="#2e2f33" />
<rect x="398.19" y="262.90" width="2.70" height="7.80" fill="#2e2f33" />
<rect x="399.19" y="247.70" width="0.70" height="6.00" fill="#707074" />
<rect x="399.19" y="264.10" width="0.70" height="6.00" fill="#707074" />
<rect x="402.53" y="246.70" width="2.70" height="8.00" fill="#2e2f33" />
<rect x="402.53" y="262.90" width="2.70" height="7.80" fill="#2e2f33" />
<rect x="403.53" y="247.70" width="0.70" height="6.00" fill="#707074" />
<rect x="403.53" y="264.10" width="0.70" height="6.00" fill="#707074" />
<rect x="406.87" y="246.70" width="2.70" height="8.00" fill="#2e2f33" />
<rect x="406.87" y="262.90" width="2.70" height="7.80" fill="#2e2f33" />
<rect x="407.87" y="247.70" width="0.70" height="6.00" fill="#707074" />
<rect x="407.87" y="264.10" width="0.70" height="6.00" fill="#707074" />
<rect x="411.21" y="246.70" width="2.70" height="8.00" fill="#2e2f33" />
<rect x="411.21" y="262.90" width="2.70" height="7.80" fill="#2e2f33" />
<rect x="412.21" y="247.70" width="0.70" height="6.00" fill="#707074" />
<rect x="412.21" y="264.10" width="0.70" height="6.00" fill="#707074" />
<rect x="415.55" y="246.70" width="2.70" height="8.00" fill="#2e2f33" />
<rect x="415.55" y="262.90" width="2.70" height="7.80" fill="#2e2f33" />
<rect x="416.55" y="247.70" width="0.70" height="6.00" fill="#707074" />
<rect x="416.55" y="264.10" width="0.70" height="6.00" fill="#707074" />
<rect x="419.89" y="246.70" width="2.70" height="8.00" fill="#2e2f33" />
<rect x="419.89" y="262.90" width="2.70" height="7.80" fill="#2e2f33" />
<rect x="420.89" y="247.70" width="0.70" height="6.00" fill="#707074" />
<rect x="420.89" y="264.10" width="0.70" height="6.00" fill="#707074" />
<rect x="424.23" y="246.70" width="2.70" height="8.00" fill="#2e2f33" />
<rect x="424.23" y="262.90" width="2.70" height="7.80" fill="#2e2f33" />
<rect x="425.23" y="247.70" width="0.70" height="6.00" fill="#707074" />
<rect x="425.23" y="264.10" width="0.70" height="6.00" fill="#707074" />
<rect x="428.57" y="246.70" width="2.70" height="8.00" fill="#2e2f33" />
<rect x="428.57" y="262.90" width="2.70" height="7.80" fill="#2e2f33" />
<rect x="429.57" y="247.70" width="0.70" height="6.00" fill="#707074" />
<rect x="429.57" y="264.10" width="0.70" height="6.00" fill="#707074" />
<rect x="432.91" y="246.70" width="2.70" height="8.00" fill="#2e2f33" />
<rect x="432.91" y="262.90" width="2.70" height="7.80" fill="#2e2f33" />
<rect x="433.91" y="247.70" width="0.70" height="6.00" fill="#707074" />
<rect x="433.91" y="264.10" width="0.70" height="6.00" fill="#707074" />
<rect x="437.25" y="246.70" width="2.70" height="8.00" fill="#2e2f33" />
<rect x="437.25" y="262.90" width="2.70" height="7.80" fill="#2e2f33" />
<rect x="438.25" y="247.70" width="0.70" height="6.00" fill="#707074" />
<rect x="438.25" y="264.10" width="0.70" height="6.00" fill="#707074" />
<rect x="441.59" y="246.70" width="2.70" height="8.00" fill="#2e2f33" />
<rect x="441.59" y="262.90" width="2.70" height="7.80" fill="#2e2f33" />
<rect x="442.59" y="247.70" width="0.70" height="6.00" fill="#707074" />
<rect x="442.59" y="264.10" width="0.70" height="6.00" fill="#707074" />
<rect x="445.93" y="246.70" width="2.70" height="8.00" fill="#2e2f33" />
<rect x="445.93" y="262.90" width="2.70" height="7.80" fill="#2e2f33" />
<rect x="446.93" y="247.70" width="0.70" height="6.00" fill="#707074" />
<rect x="446.93" y="264.10" width="0.70" height="6.00" fill="#707074" />
<rect x="450.27" y="246.70" width="2.70" height="8.00" fill="#2e2f33" />
<rect x="450.27" y="262.90" width="2.70" height="7.80" fill="#2e2f33" />
<rect x="451.27" y="247.70" width="0.70" height="6.00" fill="#707074" />
<rect x="451.27" y="264.10" width="0.70" height="6.00" fill="#707074" />
<rect x="454.61" y="246.70" width="2.70" height="8.00" fill="#2e2f33" />
<rect x="454.61" y="262.90" width="2.70" height="7.80" fill="#2e2f33" />
<rect x="455.61" y="247.70" width="0.70" height="6.00" fill="#707074" />
<rect x="455.61" y="264.10" width="0.70" height="6.00" fill="#707074" />
<rect x="458.95" y="246.70" width="2.70" height="8.00" fill="#2e2f33" />
<rect x="458.95" y="262.90" width="2.70" height="7.80" fill="#2e2f33" />
<rect x="459.95" y="247.70" width="0.70" height="6.00" fill="#707074" />
<rect x="459.95" y="264.10" width="0.70" height="6.00" fill="#707074" />
<rect x="463.29" y="246.70" width="2.70" height="8.00" fill="#2e2f33" />
<rect x="463.29" y="262.90" width="2.70" height="7.80" fill="#2e2f33" />
<rect x="464.29" y="247.70" width="0.70" height="6.00" fill="#707074" />
<rect x="464.29" y="264.10" width="0.70" height="6.00" fill="#707074" />
<rect x="467.63" y="246.70" width="2.70" height="8.00" fill="#2e2f33" />
<rect x="467.63" y="262.90" width="2.70" height="7.80" fill="#2e2f33" />
<rect x="468.63" y="247.70" width="0.70" height="6.00" fill="#707074" />
<rect x="468.63" y="264.10" width="0.70" height="6.00" fill="#707074" />
<rect x="471.97" y="246.70" width="2.70" height="8.00" fill="#2e2f33" />
<rect x="471.97" y="262.90" width="2.70" height="7.80" fill="#2e2f33" />
<rect x="472.97" y="247.70" width="0.70" height="6.00" fill="#707074" />
<rect x="472.97" y="264.10" width="0.70" height="6.00" fill="#707074" />
<rect x="476.31" y="246.70" width="2.70" height="8.00" fill="#2e2f33" />
<rect x="476.31" y="262.90" width="2.70" height="7.80" fill="#2e2f33" />
<rect x="477.31" y="247.70" width="0.70" height="6.00" fill="#707074" />
<rect x="477.31" y="264.10" width="0.70" height="6.00" fill="#707074" />
<rect x="480.65" y="246.70" width="2.70" height="8.00" fill="#2e2f33" />
<rect x="480.65" y="262.90" width="2.70" height="7.80" fill="#2e2f33" />
<rect x="481.65" y="247.70" width="0.70" height="6.00" fill="#707074" />
<rect x="481.65" y="264.10" width="0.70" height="6.00" fill="#707074" />
<rect x="484.99" y="246.70" width="2.70" height="8.00" fill="#2e2f33" />
<rect x="484.99" y="262.90" width="2.70" height="7.80" fill="#2e2f33" />
<rect x="485.99" y="247.70" width="0.70" height="6.00" fill="#707074" />
<rect x="485.99" y="264.10" width="0.70" height="6.00" fill="#707074" />
<rect x="489.33" y="246.70" width="2.70" height="8.00" fill="#2e2f33" />
<rect x="489.33" y="262.90" width="2.70" height="7.80" fill="#2e2f33" />
<rect x="490.33" y="247.70" width="0.70" height="6.00" fill="#707074" />
<rect x="490.33" y="264.10" width="0.70" height="6.00" fill="#707074" />
<rect x="493.67" y="246.70" width="2.70" height="8.00" fill="#2e2f33" />
<rect x="493.67" y="262.90" width="2.70" height="7.80" fill="#2e2f33" />
<rect x="494.67" y="247.70" width="0.70" height="6.00" fill="#707074" />
<rect x="494.67" y="264.10" width="0.70" height="6.00" fill="#707074" />
<rect x="498.01" y="246.70" width="2.70" height="8.00" fill="#2e2f33" />
<rect x="498.01" y="262.90" width="2.70" height="7.80" fill="#2e2f33" />
<rect x="499.01" y="247.70" width="0.70" height="6.00" fill="#707074" />
<rect x="499.01" y="264.10" width="0.70" height="6.00" fill="#707074" />
<rect x="502.35" y="246.70" width="2.70" height="8.00" fill="#2e2f33" />
<rect x="502.35" y="262.90" width="2.70" height="7.80" fill="#2e2f33" />
<rect x="503.35" y="247.70" width="0.70" height="6.00" fill="#707074" />
<rect x="503.35" y="264.10" width="0.70" height="6.00" fill="#707074" />
<rect x="506.69" y="246.70" width="2.70" height="8.00" fill="#2e2f33" />
<rect x="506.69" y="262.90" width="2.70" height="7.80" fill="#2e2f33" />
<rect x="507.69" y="247.70" width="0.70" height="6.00" fill="#707074" />
<rect x="507.69" y="264.10" width="0.70" height="6.00" fill="#707074" />
<rect x="511.03" y="246.70" width="2.70" height="8.00" fill="#2e2f33" />
<rect x="511.03" y="262.90" width="2.70" height="7.80" fill="#2e2f33" />
<rect x="512.03" y="247.70" width="0.70" height="6.00" fill="#707074" />
<rect x="512.03" y="264.10" width="0.70" height="6.00" fill="#707074" />
<rect x="515.37" y="246.70" width="2.70" height="8.00" fill="#2e2f33" />
<rect x="515.37" y="262.90" width="2.70" height="7.80" fill="#2e2f33" />
<rect x="516.37" y="247.70" width="0.70" height="6.00" fill="#707074" />
<rect x="516.37" y="264.10" width="0.70" height="6.00" fill="#707074" />
<rect x="519.71" y="246.70" width="2.70" height="8.00" fill="#2e2f33" />
<rect x="519.71" y="262.90" width="2.70" height="7.80" fill="#2e2f33" />
<rect x="520.71" y="247.70" width="0.70" height="6.00" fill="#707074" />
<rect x="520.71" y="264.10" width="0.70" height="6.00" fill="#707074" />
<rect x="524.05" y="246.70" width="2.70" height="8.00" fill="#2e2f33" />
<rect x="524.05" y="262.90" width="2.70" height="7.80" fill="#2e2f33" />
<rect x="525.05" y="247.70" width="0.70" height="6.00" fill="#707074" />
<rect x="525.05" y="264.10" width="0.70" height="6.00" fill="#707074" />
<rect x="528.39" y="246.70" width="2.70" height="8.00" fill="#2e2f33" />
<rect x="528.39" y="262.90" width="2.70" height="7.80" fill="#2e2f33" />
<rect x="529.39" y="247.70" width="0.70" height="6.00" fill="#707074" />
<rect x="529.39" y="264.10" width="0.70" height="6.00" fill="#707074" />
<rect x="532.73" y="246.70" width="2.70" height="8.00" fill="#2e2f33" />
<rect x="532.73" y="262.90" width="2.70" height="7.80" fill="#2e2f33" />
<rect x="533.73" y="247.70" width="0.70" height="6.00" fill="#707074" />
<rect x="533.73" y="264.10" width="0.70" height="6.00" fill="#707074" />
<rect x="537.07" y="246.70" width="2.70" height="8.00" fill="#2e2f33" />
<rect x="537.07" y="262.90" width="2.70" height="7.80" fill="#2e2f33" />
<rect x="538.07" y="247.70" width="0.70" height="6.00" fill="#707074" />
<rect x="538.07" y="264.10" width="0.70" height="6.00" fill="#707074" />
<rect x="541.41" y="246.70" width="2.70" height="8.00" fill="#2e2f33" />
<rect x="541.41" y="262.90" width="2.70" height="7.80" fill="#2e2f33" />
<rect x="542.41" y="247.70" width="0.70" height="6.00" fill="#707074" />
<rect x="542.41" y="264.10" width="0.70" height="6.00" fill="#707074" />
<rect x="545.75" y="246.70" width="2.70" height="8.00" fill="#2e2f33" />
<rect x="545.75" y="262.90" width="2.70" height="7.80" fill="#2e2f33" />
<rect x="546.75" y="247.70" width="0.70" height="6.00" fill="#707074" />
<rect x="546.75" y="264.10" width="0.70" height="6.00" fill="#707074" />
<rect x="179.5" y="254.95000000000002" width="371" height="7.45" fill="#fff" stroke="#2e2f33" stroke-width="2.7"/>
<rect x="234.3" y="254.20000000000002" width="6.2" height="8.7" rx="3" fill="#fff" stroke="#2e2f33" stroke-width="1.4"/>
<line x1="237.4" y1="254.8" x2="237.4" y2="262.3" stroke="#2e2f33" stroke-width="1.0" />
<path d="M174.6 251.10000000000002 L177.4 251.10000000000002 L177.4 266.3 L174.6 266.3" fill="#777" stroke="#2e2f33" stroke-width="1.3"/>
<path d="M177.6 254.10000000000002 L182 255.8 L182 261.3 L177.6 263.1" fill="#fff" stroke="#2e2f33" stroke-width="1.2"/>
<path d="M545 255.3 L549 255.3 L549 261.8 L545 261.8 L547 258.5 Z" fill="#fff" stroke="#2e2f33" stroke-width="1.2"/>
<path d="M553.8 249.70000000000002 L567.0 249.70000000000002 L567.0 248.70000000000002 L579.5 248.70000000000002 L579.5 239.85000000000002 L597.7 239.85000000000002 L597.7 283.85 L579.5 283.85 L579.5 274.40000000000003 L567.0 274.40000000000003 L567.0 273.1 L553.8 273.1" fill="none" stroke="#2e2f33" stroke-width="1.4"/>
<rect x="551.60" y="251.50" width="2.20" height="14.80" rx="0" fill="#888" stroke="#2e2f33" stroke-width="1.3" />
<rect x="553.80" y="251.80" width="23.50" height="5.70" rx="0" fill="none" stroke="#2e2f33" stroke-width="1.3" />
<rect x="553.80" y="266.30" width="23.50" height="5.00" rx="0" fill="none" stroke="#2e2f33" stroke-width="1.3" />
<rect x="553.80" y="257.50" width="15.60" height="8.80" rx="0" fill="none" stroke="#2e2f33" stroke-width="1.3" />
<rect x="569.40" y="257.50" width="24.00" height="8.80" rx="0" fill="none" stroke="#2e2f33" stroke-width="1.3" />
<line x1="584.3" y1="239.85000000000002" x2="584.3" y2="257.5" stroke="#2e2f33" stroke-width="1.2" />
<line x1="586.7" y1="239.85000000000002" x2="586.7" y2="257.5" stroke="#2e2f33" stroke-width="1.2" />
<line x1="584.3" y1="266.3" x2="584.3" y2="283.85" stroke="#2e2f33" stroke-width="1.2" />
<line x1="586.7" y1="266.3" x2="586.7" y2="283.85" stroke="#2e2f33" stroke-width="1.2" />
<line x1="594.0" y1="239.85000000000002" x2="594.0" y2="283.85" stroke="#2e2f33" stroke-width="1.2" />
<rect x="597.70" y="247.90" width="5.80" height="27.50" rx="0" fill="none" stroke="#2e2f33" stroke-width="1.4" />
<rect x="601.60" y="-10.00" width="39.00" height="52.30" rx="0" fill="none" stroke="#2e2f33" stroke-width="1.6" />
<line x1="609.3" y1="-10" x2="609.3" y2="42.3" stroke="#2e2f33" stroke-width="1.5" />
<line x1="633.5" y1="-10" x2="633.5" y2="42.3" stroke="#2e2f33" stroke-width="1.5" />
<path d="M616.3 -10 L616.3 18.4 L613.9 18.4 A2.6 2.6 0 0 0 613.9 23.6 L616.3 23.6 L616.3 35.2 L618.5 35.2 L618.5 42.3" fill="none" stroke="#2e2f33" stroke-width="1.4"/>
<rect x="603.20" y="-5.00" width="4.40" height="0.75" fill="#b4b4b6" />
<rect x="603.20" y="-3.50" width="4.40" height="0.75" fill="#b4b4b6" />
<rect x="603.20" y="-2.00" width="4.40" height="0.75" fill="#b4b4b6" />
<rect x="603.20" y="-0.50" width="4.40" height="0.75" fill="#b4b4b6" />
<rect x="603.20" y="1.00" width="4.40" height="0.75" fill="#b4b4b6" />
<rect x="603.20" y="2.50" width="4.40" height="0.75" fill="#b4b4b6" />
<rect x="603.20" y="4.00" width="4.40" height="0.75" fill="#b4b4b6" />
<rect x="603.20" y="5.50" width="4.40" height="0.75" fill="#b4b4b6" />
<rect x="603.20" y="7.00" width="4.40" height="0.75" fill="#b4b4b6" />
<rect x="603.20" y="8.50" width="4.40" height="0.75" fill="#b4b4b6" />
<rect x="603.20" y="10.00" width="4.40" height="0.75" fill="#b4b4b6" />
<rect x="603.20" y="11.50" width="4.40" height="0.75" fill="#b4b4b6" />
<rect x="603.20" y="13.00" width="4.40" height="0.75" fill="#b4b4b6" />
<rect x="603.20" y="14.50" width="4.40" height="0.75" fill="#b4b4b6" />
<rect x="603.20" y="16.00" width="4.40" height="0.75" fill="#b4b4b6" />
<rect x="603.20" y="26.00" width="4.40" height="0.75" fill="#b4b4b6" />
<rect x="603.20" y="27.50" width="4.40" height="0.75" fill="#b4b4b6" />
<rect x="603.20" y="29.00" width="4.40" height="0.75" fill="#b4b4b6" />
<rect x="603.20" y="30.50" width="4.40" height="0.75" fill="#b4b4b6" />
<rect x="603.20" y="32.00" width="4.40" height="0.75" fill="#b4b4b6" />
<rect x="635.20" y="-5.00" width="4.40" height="0.75" fill="#b4b4b6" />
<rect x="635.20" y="-3.50" width="4.40" height="0.75" fill="#b4b4b6" />
<rect x="635.20" y="-2.00" width="4.40" height="0.75" fill="#b4b4b6" />
<rect x="635.20" y="-0.50" width="4.40" height="0.75" fill="#b4b4b6" />
<rect x="635.20" y="1.00" width="4.40" height="0.75" fill="#b4b4b6" />
<rect x="635.20" y="2.50" width="4.40" height="0.75" fill="#b4b4b6" />
<rect x="635.20" y="4.00" width="4.40" height="0.75" fill="#b4b4b6" />
<rect x="635.20" y="5.50" width="4.40" height="0.75" fill="#b4b4b6" />
<rect x="635.20" y="7.00" width="4.40" height="0.75" fill="#b4b4b6" />
<rect x="635.20" y="8.50" width="4.40" height="0.75" fill="#b4b4b6" />
<rect x="635.20" y="10.00" width="4.40" height="0.75" fill="#b4b4b6" />
<rect x="635.20" y="11.50" width="4.40" height="0.75" fill="#b4b4b6" />
<rect x="635.20" y="13.00" width="4.40" height="0.75" fill="#b4b4b6" />
<rect x="635.20" y="14.50" width="4.40" height="0.75" fill="#b4b4b6" />
<rect x="635.20" y="25.50" width="4.40" height="0.75" fill="#b4b4b6" />
<rect x="635.20" y="27.00" width="4.40" height="0.75" fill="#b4b4b6" />
<rect x="635.20" y="28.50" width="4.40" height="0.75" fill="#b4b4b6" />
<rect x="635.20" y="30.00" width="4.40" height="0.75" fill="#b4b4b6" />
<rect x="635.20" y="31.50" width="4.40" height="0.75" fill="#b4b4b6" />
<rect x="636.60" y="37.60" width="1.60" height="1.60" fill="#888" />
<rect x="601.60" y="46.40" width="39.00" height="91.60" rx="0" fill="none" stroke="#2e2f33" stroke-width="1.6" />
<line x1="609.3" y1="46.4" x2="609.3" y2="138.0" stroke="#2e2f33" stroke-width="1.5" />
<line x1="633.5" y1="46.4" x2="633.5" y2="138.0" stroke="#2e2f33" stroke-width="1.5" />
<path d="M618.3 46.4 L618.3 53.4 L616.3 53.4 L616.3 114.7 L613.9 114.7 A2.6 2.6 0 0 0 613.9 119.89999999999999 L616.3 119.89999999999999 L616.3 131.5 L618.5 131.5 L618.5 138.0" fill="none" stroke="#2e2f33" stroke-width="1.4"/>
<rect x="603.20" y="54.50" width="4.40" height="0.75" fill="#b4b4b6" />
<rect x="603.20" y="56.00" width="4.40" height="0.75" fill="#b4b4b6" />
<rect x="603.20" y="57.50" width="4.40" height="0.75" fill="#b4b4b6" />
<rect x="603.20" y="59.00" width="4.40" height="0.75" fill="#b4b4b6" />
<rect x="603.20" y="60.50" width="4.40" height="0.75" fill="#b4b4b6" />
<rect x="603.20" y="62.00" width="4.40" height="0.75" fill="#b4b4b6" />
<rect x="603.20" y="63.50" width="4.40" height="0.75" fill="#b4b4b6" />
<rect x="603.20" y="65.00" width="4.40" height="0.75" fill="#b4b4b6" />
<rect x="603.20" y="66.50" width="4.40" height="0.75" fill="#b4b4b6" />
<rect x="603.20" y="68.00" width="4.40" height="0.75" fill="#b4b4b6" />
<rect x="603.20" y="69.50" width="4.40" height="0.75" fill="#b4b4b6" />
<rect x="603.20" y="71.00" width="4.40" height="0.75" fill="#b4b4b6" />
<rect x="603.20" y="72.50" width="4.40" height="0.75" fill="#b4b4b6" />
<rect x="603.20" y="74.00" width="4.40" height="0.75" fill="#b4b4b6" />
<rect x="603.20" y="75.50" width="4.40" height="0.75" fill="#b4b4b6" />
<rect x="603.20" y="77.00" width="4.40" height="0.75" fill="#b4b4b6" />
<rect x="603.20" y="78.50" width="4.40" height="0.75" fill="#b4b4b6" />
<rect x="603.20" y="80.00" width="4.40" height="0.75" fill="#b4b4b6" />
<rect x="603.20" y="81.50" width="4.40" height="0.75" fill="#b4b4b6" />
<rect x="603.20" y="83.00" width="4.40" height="0.75" fill="#b4b4b6" />
<rect x="603.20" y="84.50" width="4.40" height="0.75" fill="#b4b4b6" />
<rect x="603.20" y="86.00" width="4.40" height="0.75" fill="#b4b4b6" />
<rect x="603.20" y="87.50" width="4.40" height="0.75" fill="#b4b4b6" />
<rect x="603.20" y="89.00" width="4.40" height="0.75" fill="#b4b4b6" />
<rect x="603.20" y="90.50" width="4.40" height="0.75" fill="#b4b4b6" />
<rect x="603.20" y="92.00" width="4.40" height="0.75" fill="#b4b4b6" />
<rect x="603.20" y="93.50" width="4.40" height="0.75" fill="#b4b4b6" />
<rect x="603.20" y="95.00" width="4.40" height="0.75" fill="#b4b4b6" />
<rect x="603.20" y="96.50" width="4.40" height="0.75" fill="#b4b4b6" />
<rect x="603.20" y="98.00" width="4.40" height="0.75" fill="#b4b4b6" />
<rect x="603.20" y="99.50" width="4.40" height="0.75" fill="#b4b4b6" />
<rect x="603.20" y="101.00" width="4.40" height="0.75" fill="#b4b4b6" />
<rect x="603.20" y="102.50" width="4.40" height="0.75" fill="#b4b4b6" />
<rect x="603.20" y="104.00" width="4.40" height="0.75" fill="#b4b4b6" />
<rect x="603.20" y="105.50" width="4.40" height="0.75" fill="#b4b4b6" />
<rect x="603.20" y="107.00" width="4.40" height="0.75" fill="#b4b4b6" />
<rect x="603.20" y="108.50" width="4.40" height="0.75" fill="#b4b4b6" />
<rect x="603.20" y="110.00" width="4.40" height="0.75" fill="#b4b4b6" />
<rect x="603.20" y="111.50" width="4.40" height="0.75" fill="#b4b4b6" />
<rect x="603.20" y="122.00" width="4.40" height="0.75" fill="#b4b4b6" />
<rect x="603.20" y="123.50" width="4.40" height="0.75" fill="#b4b4b6" />
<rect x="603.20" y="125.00" width="4.40" height="0.75" fill="#b4b4b6" />
<rect x="603.20" y="126.50" width="4.40" height="0.75" fill="#b4b4b6" />
<rect x="603.20" y="128.00" width="4.40" height="0.75" fill="#b4b4b6" />
<rect x="603.20" y="129.50" width="4.40" height="0.75" fill="#b4b4b6" />
<rect x="635.20" y="49.50" width="4.40" height="0.75" fill="#b4b4b6" />
<rect x="635.20" y="51.00" width="4.40" height="0.75" fill="#b4b4b6" />
<rect x="635.20" y="52.50" width="4.40" height="0.75" fill="#b4b4b6" />
<rect x="635.20" y="54.00" width="4.40" height="0.75" fill="#b4b4b6" />
<rect x="635.20" y="55.50" width="4.40" height="0.75" fill="#b4b4b6" />
<rect x="635.20" y="57.00" width="4.40" height="0.75" fill="#b4b4b6" />
<rect x="635.20" y="58.50" width="4.40" height="0.75" fill="#b4b4b6" />
<rect x="635.20" y="60.00" width="4.40" height="0.75" fill="#b4b4b6" />
<rect x="635.20" y="61.50" width="4.40" height="0.75" fill="#b4b4b6" />
<rect x="635.20" y="63.00" width="4.40" height="0.75" fill="#b4b4b6" />
<rect x="635.20" y="64.50" width="4.40" height="0.75" fill="#b4b4b6" />
<rect x="635.20" y="66.00" width="4.40" height="0.75" fill="#b4b4b6" />
<rect x="635.20" y="67.50" width="4.40" height="0.75" fill="#b4b4b6" />
<rect x="635.20" y="69.00" width="4.40" height="0.75" fill="#b4b4b6" />
<rect x="635.20" y="70.50" width="4.40" height="0.75" fill="#b4b4b6" />
<rect x="635.20" y="72.00" width="4.40" height="0.75" fill="#b4b4b6" />
<rect x="635.20" y="73.50" width="4.40" height="0.75" fill="#b4b4b6" />
<rect x="635.20" y="75.00" width="4.40" height="0.75" fill="#b4b4b6" />
<rect x="635.20" y="76.50" width="4.40" height="0.75" fill="#b4b4b6" />
<rect x="635.20" y="78.00" width="4.40" height="0.75" fill="#b4b4b6" />
<rect x="635.20" y="79.50" width="4.40" height="0.75" fill="#b4b4b6" />
<rect x="635.20" y="81.00" width="4.40" height="0.75" fill="#b4b4b6" />
<rect x="635.20" y="82.50" width="4.40" height="0.75" fill="#b4b4b6" />
<rect x="635.20" y="84.00" width="4.40" height="0.75" fill="#b4b4b6" />
<rect x="635.20" y="85.50" width="4.40" height="0.75" fill="#b4b4b6" />
<rect x="635.20" y="87.00" width="4.40" height="0.75" fill="#b4b4b6" />
<rect x="635.20" y="88.50" width="4.40" height="0.75" fill="#b4b4b6" />
<rect x="635.20" y="90.00" width="4.40" height="0.75" fill="#b4b4b6" />
<rect x="635.20" y="91.50" width="4.40" height="0.75" fill="#b4b4b6" />
<rect x="635.20" y="93.00" width="4.40" height="0.75" fill="#b4b4b6" />
<rect x="635.20" y="94.50" width="4.40" height="0.75" fill="#b4b4b6" />
<rect x="635.20" y="96.00" width="4.40" height="0.75" fill="#b4b4b6" />
<rect x="635.20" y="97.50" width="4.40" height="0.75" fill="#b4b4b6" />
<rect x="635.20" y="99.00" width="4.40" height="0.75" fill="#b4b4b6" />
<rect x="635.20" y="100.50" width="4.40" height="0.75" fill="#b4b4b6" />
<rect x="635.20" y="102.00" width="4.40" height="0.75" fill="#b4b4b6" />
<rect x="635.20" y="103.50" width="4.40" height="0.75" fill="#b4b4b6" />
<rect x="635.20" y="105.00" width="4.40" height="0.75" fill="#b4b4b6" />
<rect x="635.20" y="106.50" width="4.40" height="0.75" fill="#b4b4b6" />
<rect x="635.20" y="108.00" width="4.40" height="0.75" fill="#b4b4b6" />
<rect x="635.20" y="109.50" width="4.40" height="0.75" fill="#b4b4b6" />
<rect x="635.20" y="121.50" width="4.40" height="0.75" fill="#b4b4b6" />
<rect x="635.20" y="123.00" width="4.40" height="0.75" fill="#b4b4b6" />
<rect x="635.20" y="124.50" width="4.40" height="0.75" fill="#b4b4b6" />
<rect x="635.20" y="126.00" width="4.40" height="0.75" fill="#b4b4b6" />
<rect x="635.20" y="127.50" width="4.40" height="0.75" fill="#b4b4b6" />
<rect x="635.20" y="129.00" width="4.40" height="0.75" fill="#b4b4b6" />
<rect x="636.60" y="133.70" width="1.60" height="1.60" fill="#888" />
<text transform="translate(658.90,26.20) rotate(-90)" x="-1.23" y="0" font-size="17.5" textLength="72.68" lengthAdjust="spacingAndGlyphs" fill="#2b2b2f">M2G_CPU</text>
<text transform="translate(658.90,122.00) rotate(-90)" x="-1.23" y="0" font-size="17.5" textLength="61.83" lengthAdjust="spacingAndGlyphs" fill="#2b2b2f">M2M_SB</text>
<rect x="933.90" y="11.20" width="37.80" height="57.00" fill="none" stroke="#7c7c7e" stroke-width="1.5"/>
<line x1="952.9" y1="11.2" x2="952.9" y2="68.2" stroke="#7c7c7e" stroke-width="1.5" />
<line x1="933.9" y1="30.4" x2="971.7" y2="30.4" stroke="#7c7c7e" stroke-width="1.5" />
<line x1="933.9" y1="49.8" x2="971.7" y2="49.8" stroke="#7c7c7e" stroke-width="1.5" />
<text transform="translate(950.40,24.80) rotate(-90)" x="-0.78" y="0" font-size="18" textLength="8.44" lengthAdjust="spacingAndGlyphs" fill="#2b2b2f">7</text>
<text transform="translate(968.90,24.80) rotate(-90)" x="-0.74" y="0" font-size="18" textLength="8.08" lengthAdjust="spacingAndGlyphs" fill="#2b2b2f">6</text>
<text transform="translate(950.40,43.50) rotate(-90)" x="-0.59" y="0" font-size="18" textLength="8.21" lengthAdjust="spacingAndGlyphs" fill="#2b2b2f">5</text>
<text transform="translate(968.90,44.00) rotate(-90)" x="-0.31" y="0" font-size="18" textLength="7.39" lengthAdjust="spacingAndGlyphs" fill="#2b2b2f">4</text>
<text transform="translate(950.40,62.70) rotate(-90)" x="-0.56" y="0" font-size="18" textLength="8.21" lengthAdjust="spacingAndGlyphs" fill="#2b2b2f">3</text>
<text transform="translate(968.90,62.30) rotate(-90)" x="-0.83" y="0" font-size="18" textLength="9.16" lengthAdjust="spacingAndGlyphs" fill="#2b2b2f">2</text>
<text transform="translate(960.90,117.00) rotate(-90)" x="-0.64" y="0" font-size="19" textLength="44.97" lengthAdjust="spacingAndGlyphs" fill="#2b2b2f">SATA3</text>
<path d="M1039.5 7.7 L979.2 7.7 L979.2 74.7 L1039.5 74.7" fill="none" stroke="#2e2f33" stroke-width="1.5"/>
<path d="M1039.5 14.5 L1002.2 14.5 L1002.2 68.3 L1039.5 68.3" fill="none" stroke="#2e2f33" stroke-width="1.5"/>
<rect x="1010.60" y="24.80" width="22.80" height="7.00" rx="0.8" fill="none" stroke="#2e2f33" stroke-width="1.4" />
<line x1="1013.6" y1="24.8" x2="1013.6" y2="31.8" stroke="#2e2f33" stroke-width="1.0" />
<rect x="1010.60" y="44.10" width="22.80" height="7.00" rx="0.8" fill="none" stroke="#2e2f33" stroke-width="1.4" />
<line x1="1013.6" y1="44.1" x2="1013.6" y2="51.1" stroke="#2e2f33" stroke-width="1.0" />
<path d="M1039.5 78.6 L979.2 78.6 L979.2 145.2 L1039.5 145.2" fill="none" stroke="#2e2f33" stroke-width="1.5"/>
<path d="M1039.5 85.4 L1002.2 85.4 L1002.2 139.4 L1039.5 139.4" fill="none" stroke="#2e2f33" stroke-width="1.5"/>
<rect x="1010.60" y="95.80" width="22.80" height="7.00" rx="0.8" fill="none" stroke="#2e2f33" stroke-width="1.4" />
<line x1="1013.6" y1="95.8" x2="1013.6" y2="102.8" stroke="#2e2f33" stroke-width="1.0" />
<rect x="1010.60" y="115.00" width="22.80" height="7.00" rx="0.8" fill="none" stroke="#2e2f33" stroke-width="1.4" />
<line x1="1013.6" y1="115.0" x2="1013.6" y2="122.0" stroke="#2e2f33" stroke-width="1.0" />
<path d="M1039.5 149.8 L979.2 149.8 L979.2 216.3 L1039.5 216.3" fill="none" stroke="#2e2f33" stroke-width="1.5"/>
<path d="M1039.5 156.6 L1002.2 156.6 L1002.2 209.6 L1039.5 209.6" fill="none" stroke="#2e2f33" stroke-width="1.5"/>
<rect x="1010.60" y="166.80" width="22.80" height="7.00" rx="0.8" fill="none" stroke="#2e2f33" stroke-width="1.4" />
<line x1="1013.6" y1="166.8" x2="1013.6" y2="173.8" stroke="#2e2f33" stroke-width="1.0" />
<rect x="1010.60" y="186.00" width="22.80" height="7.00" rx="0.8" fill="none" stroke="#2e2f33" stroke-width="1.4" />
<line x1="1013.6" y1="186.0" x2="1013.6" y2="193.0" stroke="#2e2f33" stroke-width="1.0" />
<text x="711.36" y="201.60" font-size="16.9" textLength="57.13" lengthAdjust="spacingAndGlyphs" fill="#2b2b2f" >M<tspan dy="-2.1">_</tspan><tspan dy="2.1">BIOS</tspan></text>
<rect x="709.60" y="212.00" width="26.20" height="22.00" rx="0" fill="none" stroke="#2e2f33" stroke-width="1.6" />
<text x="618.95" y="210.60" font-size="15" textLength="72.17" lengthAdjust="spacingAndGlyphs" fill="#2b2b2f" >USB 2.0 Hub</text>
<path d="M614 205.5 L603 205.5 L603 227" fill="none" stroke="#2e2f33" stroke-width="1.6"/>
<path d="M596 226.3 L610.2 226.3 L603.1 240 Z" fill="#2e2f33"/>
<rect x="598.60" y="242.40" width="10.00" height="27.30" rx="0" fill="none" stroke="#2e2f33" stroke-width="1.4" stroke-dasharray="4 2.4"/>
<path d="M882.5 211.9 L867.5 211.9 L867.5 242.2 L882.5 242.2" fill="none" stroke="#2e2f33" stroke-width="1.5"/>
<path d="M890 200.2 L878.9 204.5 L876.9 211.9 M876.9 242.2 L878.9 249.4 L890 254.2" fill="none" stroke="#2e2f33" stroke-width="1.4"/>
<circle cx="925.9" cy="226.8" r="45.2" fill="#fff" stroke="#2e2f33" stroke-width="1.6"/>
<text x="910.35" y="232.00" font-size="18.3" textLength="27.27" lengthAdjust="spacingAndGlyphs" fill="#2b2b2f" >BAT</text>
<rect x="976.30" y="224.60" width="10.20" height="9.00" rx="2" fill="none" stroke="#2e2f33" stroke-width="1.5" />
<rect x="976.30" y="233.60" width="10.20" height="9.50" rx="2" fill="none" stroke="#2e2f33" stroke-width="1.5" />
<rect x="980.40" y="228.30" width="1.80" height="1.80" fill="#2e2f33" />
<rect x="980.40" y="237.60" width="1.80" height="1.80" fill="#2e2f33" />
<path d="M972 260 L986.5 260 L979.2 246.8 Z" fill="#2e2f33"/>
<path d="M979.2 259 L979.2 264.3 L1050.5 264.3" fill="none" stroke="#2e2f33" stroke-width="1.6"/>
<rect x="994.30" y="221.00" width="23.60" height="23.90" rx="0" fill="none" stroke="#2e2f33" stroke-width="1.6" />
<circle cx="1006.1" cy="232.9" r="6.7" fill="none" stroke="#2e2f33" stroke-width="1.5"/>
<circle cx="998.6" cy="225.3" r="1.7" fill="none" stroke="#2e2f33" stroke-width="1.35"/>
<circle cx="1013.6" cy="225.3" r="1.7" fill="none" stroke="#2e2f33" stroke-width="1.35"/>
<circle cx="998.6" cy="240.5" r="1.7" fill="none" stroke="#2e2f33" stroke-width="1.35"/>
<circle cx="1013.6" cy="240.5" r="1.7" fill="none" stroke="#2e2f33" stroke-width="1.35"/>
<path d="M1018.3 233 L1031.8 226 L1031.8 240.3 Z" fill="#2e2f33"/>
<line x1="1031" y1="233" x2="1050.5" y2="233" stroke="#2e2f33" stroke-width="1.6" />
<text transform="translate(1066.00,243.40) rotate(-90)" x="-1.22" y="0" font-size="17" textLength="62.07" lengthAdjust="spacingAndGlyphs" fill="#2b2b2f">RST_SW</text>
<text transform="translate(1066.00,283.60) rotate(-90)" x="-1.14" y="0" font-size="17" textLength="27.76" lengthAdjust="spacingAndGlyphs" fill="#2b2b2f">RST</text>
<rect x="898.30" y="282.00" width="10.00" height="11.00" rx="2" fill="none" stroke="#2e2f33" stroke-width="1.5" />
<rect x="908.30" y="282.00" width="10.00" height="11.00" rx="2" fill="none" stroke="#2e2f33" stroke-width="1.5" />
<rect x="902.40" y="286.60" width="1.80" height="1.80" fill="#2e2f33" />
<rect x="912.40" y="286.60" width="1.80" height="1.80" fill="#2e2f33" />
<text x="921.34" y="292.00" font-size="16.8" textLength="83.15" lengthAdjust="spacingAndGlyphs" fill="#2b2b2f" >CLR<tspan dy="-2.1">_</tspan><tspan dy="2.1">CMOS</tspan></text>
<circle cx="201.6" cy="312.5" r="14.1" fill="#fff" stroke="#2e2f33" stroke-width="1.05"/>
<path d="M199.29999999999998 316.5 L199.29999999999998 305.5 A2.3 2.3 0 0 1 203.9 305.5 L203.9 316.5" fill="none" stroke="#2e2f33" stroke-width="1.0"/>
<circle cx="201.5" cy="318.8" r="4.4" fill="#c4c4c6"/>
<circle cx="201.5" cy="318.8" r="2.9" fill="#2e2f33"/>
<rect x="200.50" y="310.20" width="2.20" height="7.00" fill="#2e2f33" />
<rect x="206.20" y="306.00" width="1.60" height="0.90" fill="#777" />
<rect x="206.20" y="308.20" width="1.60" height="0.90" fill="#777" />
<rect x="206.20" y="310.40" width="1.60" height="0.90" fill="#777" />
<rect x="206.20" y="312.60" width="1.60" height="0.90" fill="#777" />
<rect x="206.20" y="314.80" width="1.60" height="0.90" fill="#777" />
<circle cx="879.3" cy="281.8" r="14.1" fill="#fff" stroke="#2e2f33" stroke-width="1.05"/>
<path d="M877.0 285.8 L877.0 274.8 A2.3 2.3 0 0 1 881.5999999999999 274.8 L881.5999999999999 285.8" fill="none" stroke="#2e2f33" stroke-width="1.0"/>
<circle cx="879.1999999999999" cy="288.1" r="4.4" fill="#c4c4c6"/>
<circle cx="879.1999999999999" cy="288.1" r="2.9" fill="#2e2f33"/>
<rect x="878.20" y="279.50" width="2.20" height="7.00" fill="#2e2f33" />
<rect x="883.90" y="275.30" width="1.60" height="0.90" fill="#777" />
<rect x="883.90" y="277.50" width="1.60" height="0.90" fill="#777" />
<rect x="883.90" y="279.70" width="1.60" height="0.90" fill="#777" />
<rect x="883.90" y="281.90" width="1.60" height="0.90" fill="#777" />
<rect x="883.90" y="284.10" width="1.60" height="0.90" fill="#777" />
<circle cx="3.0" cy="455.8" r="14.1" fill="#fff" stroke="#2e2f33" stroke-width="1.05"/>
<path d="M0.7000000000000002 459.8 L0.7000000000000002 448.8 A2.3 2.3 0 0 1 5.3 448.8 L5.3 459.8" fill="none" stroke="#2e2f33" stroke-width="1.0"/>
<circle cx="2.9" cy="462.1" r="4.4" fill="#c4c4c6"/>
<circle cx="2.9" cy="462.1" r="2.9" fill="#2e2f33"/>
<rect x="1.90" y="453.50" width="2.20" height="7.00" fill="#2e2f33" />
<rect x="7.60" y="449.30" width="1.60" height="0.90" fill="#777" />
<rect x="7.60" y="451.50" width="1.60" height="0.90" fill="#777" />
<rect x="7.60" y="453.70" width="1.60" height="0.90" fill="#777" />
<rect x="7.60" y="455.90" width="1.60" height="0.90" fill="#777" />
<rect x="7.60" y="458.10" width="1.60" height="0.90" fill="#777" />
<text x="20.17" y="463.00" font-size="17" textLength="139.36" lengthAdjust="spacingAndGlyphs" fill="#2b2b2f" >Temperature sensors</text>
<rect x="126.80" y="299.40" width="56.80" height="28.40" fill="#bcbcbf" stroke="#2e2f33" stroke-width="1.5"/>
<rect x="129.00" y="301.60" width="52.40" height="24.00" fill="#fff" stroke="#2e2f33" stroke-width="1.1"/>
<rect x="149.20" y="300.25" width="11.20" height="2.0" fill="#fff"/>
<path d="M149.20 301.60 L149.20 300.20 M160.40 301.60 L160.40 300.20" stroke="#2e2f33" stroke-width="1.0"/>
<rect x="135.50" y="308.90" width="1.80" height="1.80" fill="#2e2f33" />
<rect x="144.70" y="308.90" width="1.80" height="1.80" fill="#2e2f33" />
<rect x="153.90" y="308.90" width="1.80" height="1.80" fill="#2e2f33" />
<rect x="163.10" y="308.90" width="1.80" height="1.80" fill="#2e2f33" />
<rect x="172.30" y="308.90" width="1.80" height="1.80" fill="#2e2f33" />
<rect x="135.50" y="316.90" width="1.80" height="1.80" fill="#2e2f33" />
<rect x="153.90" y="316.90" width="1.80" height="1.80" fill="#2e2f33" />
<rect x="163.10" y="316.90" width="1.80" height="1.80" fill="#2e2f33" />
<rect x="172.30" y="316.90" width="1.80" height="1.80" fill="#2e2f33" />
<rect x="416.90" y="302.70" width="62.20" height="28.30" fill="#bcbcbf" stroke="#2e2f33" stroke-width="1.5"/>
<rect x="419.10" y="304.90" width="57.80" height="23.90" fill="#fff" stroke="#2e2f33" stroke-width="1.1"/>
<rect x="439.50" y="303.55" width="16.40" height="2.0" fill="#fff"/>
<path d="M439.50 304.90 L439.50 303.50 M455.90 304.90 L455.90 303.50" stroke="#2e2f33" stroke-width="1.0"/>
<rect x="425.60" y="311.20" width="1.80" height="1.80" fill="#2e2f33" />
<rect x="434.20" y="311.20" width="1.80" height="1.80" fill="#2e2f33" />
<rect x="442.90" y="311.20" width="1.80" height="1.80" fill="#2e2f33" />
<rect x="451.50" y="311.20" width="1.80" height="1.80" fill="#2e2f33" />
<rect x="468.40" y="311.20" width="1.80" height="1.80" fill="#2e2f33" />
<rect x="425.60" y="318.90" width="1.80" height="1.80" fill="#2e2f33" />
<rect x="434.20" y="318.90" width="1.80" height="1.80" fill="#2e2f33" />
<rect x="442.90" y="318.90" width="1.80" height="1.80" fill="#2e2f33" />
<rect x="451.50" y="318.90" width="1.80" height="1.80" fill="#2e2f33" />
<rect x="460.00" y="318.90" width="1.80" height="1.80" fill="#2e2f33" />
<rect x="468.40" y="318.90" width="1.80" height="1.80" fill="#2e2f33" />
<rect x="489.70" y="298.50" width="53.10" height="32.50" fill="#bcbcbf" stroke="#2e2f33" stroke-width="1.5"/>
<rect x="491.90" y="300.70" width="48.70" height="28.10" fill="#fff" stroke="#2e2f33" stroke-width="1.1"/>
<rect x="509.60" y="299.35" width="13.40" height="2.0" fill="#fff"/>
<path d="M509.60 300.70 L509.60 299.30 M523.00 300.70 L523.00 299.30" stroke="#2e2f33" stroke-width="1.0"/>
<rect x="506.20" y="309.30" width="1.80" height="1.80" fill="#2e2f33" />
<rect x="515.40" y="309.30" width="1.80" height="1.80" fill="#2e2f33" />
<rect x="524.60" y="309.30" width="1.80" height="1.80" fill="#2e2f33" />
<rect x="534.00" y="309.30" width="1.80" height="1.80" fill="#2e2f33" />
<rect x="497.20" y="317.50" width="1.80" height="1.80" fill="#2e2f33" />
<rect x="506.20" y="317.50" width="1.80" height="1.80" fill="#2e2f33" />
<rect x="515.40" y="317.50" width="1.80" height="1.80" fill="#2e2f33" />
<rect x="524.60" y="317.50" width="1.80" height="1.80" fill="#2e2f33" />
<rect x="534.00" y="317.50" width="1.80" height="1.80" fill="#2e2f33" />
<rect x="555.10" y="298.50" width="52.90" height="32.50" fill="#bcbcbf" stroke="#2e2f33" stroke-width="1.5"/>
<rect x="557.30" y="300.70" width="48.50" height="28.10" fill="#fff" stroke="#2e2f33" stroke-width="1.1"/>
<rect x="574.90" y="299.35" width="13.40" height="2.0" fill="#fff"/>
<path d="M574.90 300.70 L574.90 299.30 M588.30 300.70 L588.30 299.30" stroke="#2e2f33" stroke-width="1.0"/>
<rect x="571.70" y="309.30" width="1.80" height="1.80" fill="#2e2f33" />
<rect x="580.70" y="309.30" width="1.80" height="1.80" fill="#2e2f33" />
<rect x="589.90" y="309.30" width="1.80" height="1.80" fill="#2e2f33" />
<rect x="599.10" y="309.30" width="1.80" height="1.80" fill="#2e2f33" />
<rect x="562.50" y="317.50" width="1.80" height="1.80" fill="#2e2f33" />
<rect x="571.70" y="317.50" width="1.80" height="1.80" fill="#2e2f33" />
<rect x="580.70" y="317.50" width="1.80" height="1.80" fill="#2e2f33" />
<rect x="589.90" y="317.50" width="1.80" height="1.80" fill="#2e2f33" />
<rect x="599.10" y="317.50" width="1.80" height="1.80" fill="#2e2f33" />
<rect x="892.80" y="296.00" width="116.80" height="33.20" fill="#bcbcbf" stroke="#2e2f33" stroke-width="1.5"/>
<rect x="895.00" y="298.20" width="112.40" height="28.80" fill="#fff" stroke="#2e2f33" stroke-width="1.1"/>
<rect x="902.80" y="305.60" width="1.80" height="1.80" fill="#2e2f33" />
<rect x="913.50" y="305.60" width="1.80" height="1.80" fill="#2e2f33" />
<rect x="924.10" y="305.60" width="1.80" height="1.80" fill="#2e2f33" />
<rect x="934.40" y="305.60" width="1.80" height="1.80" fill="#2e2f33" />
<rect x="965.90" y="305.60" width="1.80" height="1.80" fill="#2e2f33" />
<rect x="976.40" y="305.60" width="1.80" height="1.80" fill="#2e2f33" />
<rect x="987.10" y="305.60" width="1.80" height="1.80" fill="#2e2f33" />
<rect x="902.80" y="316.30" width="1.80" height="1.80" fill="#2e2f33" />
<rect x="913.50" y="316.30" width="1.80" height="1.80" fill="#2e2f33" />
<rect x="924.10" y="316.30" width="1.80" height="1.80" fill="#2e2f33" />
<rect x="934.40" y="316.30" width="1.80" height="1.80" fill="#2e2f33" />
<rect x="944.90" y="316.30" width="1.80" height="1.80" fill="#2e2f33" />
<rect x="955.50" y="316.30" width="1.80" height="1.80" fill="#2e2f33" />
<rect x="976.40" y="316.30" width="1.80" height="1.80" fill="#2e2f33" />
<rect x="987.10" y="316.30" width="1.80" height="1.80" fill="#2e2f33" />
<rect x="997.70" y="316.30" width="1.80" height="1.80" fill="#2e2f33" />
<rect x="307.80" y="311.60" width="10.45" height="10.60" rx="2.2" fill="#fff" stroke="#2e2f33" stroke-width="1.5" />
<rect x="312.10" y="316.00" width="1.90" height="1.90" fill="#2e2f33" />
<rect x="318.25" y="311.60" width="10.45" height="10.60" rx="2.2" fill="#fff" stroke="#2e2f33" stroke-width="1.5" />
<rect x="322.55" y="316.00" width="1.90" height="1.90" fill="#2e2f33" />
<rect x="328.70" y="311.60" width="10.45" height="10.60" rx="2.2" fill="#fff" stroke="#2e2f33" stroke-width="1.5" />
<rect x="339.15" y="311.60" width="10.45" height="10.60" rx="2.2" fill="#fff" stroke="#2e2f33" stroke-width="1.5" />
<rect x="343.45" y="316.00" width="1.90" height="1.90" fill="#2e2f33" />
<rect x="367.40" y="311.60" width="10.45" height="10.60" rx="2.2" fill="#fff" stroke="#2e2f33" stroke-width="1.5" />
<rect x="371.70" y="316.00" width="1.90" height="1.90" fill="#2e2f33" />
<rect x="377.85" y="311.60" width="10.45" height="10.60" rx="2.2" fill="#fff" stroke="#2e2f33" stroke-width="1.5" />
<rect x="382.15" y="316.00" width="1.90" height="1.90" fill="#2e2f33" />
<rect x="388.30" y="311.60" width="10.45" height="10.60" rx="2.2" fill="#fff" stroke="#2e2f33" stroke-width="1.5" />
<rect x="392.60" y="316.00" width="1.90" height="1.90" fill="#2e2f33" />
<rect x="398.75" y="311.60" width="10.45" height="10.60" rx="2.2" fill="#fff" stroke="#2e2f33" stroke-width="1.5" />
<rect x="403.05" y="316.00" width="1.90" height="1.90" fill="#2e2f33" />
<rect x="694.70" y="303.1" width="45.00" height="26.5" rx="1" fill="#fff" stroke="#2e2f33" stroke-width="1.5"/>
<path d="M702.20 329.6 L702.20 326.9 L720.20 326.9 L720.20 329.6" fill="none" stroke="#2e2f33" stroke-width="1.3"/>
<rect x="700.85" y="315.90" width="1.90" height="1.90" fill="#2e2f33" />
<rect x="711.05" y="315.90" width="1.90" height="1.90" fill="#2e2f33" />
<rect x="721.25" y="315.90" width="1.90" height="1.90" fill="#2e2f33" />
<rect x="731.45" y="315.90" width="1.90" height="1.90" fill="#2e2f33" />
<rect x="743.10" y="303.1" width="45.20" height="26.5" rx="1" fill="#fff" stroke="#2e2f33" stroke-width="1.5"/>
<path d="M750.80 329.6 L750.80 326.9 L769.00 326.9 L769.00 329.6" fill="none" stroke="#2e2f33" stroke-width="1.3"/>
<rect x="749.45" y="315.90" width="1.90" height="1.90" fill="#2e2f33" />
<rect x="759.65" y="315.90" width="1.90" height="1.90" fill="#2e2f33" />
<rect x="769.95" y="315.90" width="1.90" height="1.90" fill="#2e2f33" />
<rect x="780.35" y="315.90" width="1.90" height="1.90" fill="#2e2f33" />
<rect x="792.00" y="303.1" width="45.00" height="26.5" rx="1" fill="#fff" stroke="#2e2f33" stroke-width="1.5"/>
<path d="M799.50 329.6 L799.50 326.9 L817.80 326.9 L817.80 329.6" fill="none" stroke="#2e2f33" stroke-width="1.3"/>
<rect x="798.15" y="315.90" width="1.90" height="1.90" fill="#2e2f33" />
<rect x="808.35" y="315.90" width="1.90" height="1.90" fill="#2e2f33" />
<rect x="818.55" y="315.90" width="1.90" height="1.90" fill="#2e2f33" />
<rect x="828.85" y="315.90" width="1.90" height="1.90" fill="#2e2f33" />
<rect x="840.70" y="303.1" width="45.00" height="26.5" rx="1" fill="#fff" stroke="#2e2f33" stroke-width="1.5"/>
<path d="M848.20 329.6 L848.20 326.9 L866.50 326.9 L866.50 329.6" fill="none" stroke="#2e2f33" stroke-width="1.3"/>
<rect x="846.85" y="315.90" width="1.90" height="1.90" fill="#2e2f33" />
<rect x="857.05" y="315.90" width="1.90" height="1.90" fill="#2e2f33" />
<rect x="867.25" y="315.90" width="1.90" height="1.90" fill="#2e2f33" />
<rect x="877.55" y="315.90" width="1.90" height="1.90" fill="#2e2f33" />
<rect x="662.00" y="306.50" width="22.40" height="23.80" rx="0" fill="#fff" stroke="#2e2f33" stroke-width="1.6" />
<circle cx="673.3" cy="318.3" r="7.0" fill="none" stroke="#2e2f33" stroke-width="1.5"/>
<circle cx="665.9" cy="310.0" r="1.7" fill="none" stroke="#2e2f33" stroke-width="1.35"/>
<circle cx="680.7" cy="310.0" r="1.7" fill="none" stroke="#2e2f33" stroke-width="1.35"/>
<circle cx="665.9" cy="326.6" r="1.7" fill="none" stroke="#2e2f33" stroke-width="1.35"/>
<circle cx="680.7" cy="326.6" r="1.7" fill="none" stroke="#2e2f33" stroke-width="1.35"/>
<rect x="680.40" y="299.60" width="10.80" height="4.90" rx="1" fill="#fff" stroke="#2e2f33" stroke-width="1.3" />
<path d="M678.1 284 L692.9 284 L685.5 298.4 Z" fill="#2e2f33"/>
<path d="M685.5 285 L685.5 275.5 L697.5 275.5" fill="none" stroke="#2e2f33" stroke-width="1.6"/>
<text x="699.86" y="281.20" font-size="15.6" textLength="44.78" lengthAdjust="spacingAndGlyphs" fill="#2b2b2f" >QFLED</text>
<path d="M154.9 329.8 L147.9 343.2 L161.9 343.2 Z" fill="#2e2f33"/>
<line x1="154.9" y1="342.2" x2="154.9" y2="368.6" stroke="#2e2f33" stroke-width="1.6" />
<path d="M326.1 323.6 L319.1 337.6 L333.1 337.6 Z" fill="#2e2f33"/>
<line x1="326.1" y1="336.6" x2="326.1" y2="411.3" stroke="#2e2f33" stroke-width="1.6" />
<path d="M383.1 323.6 L376.1 337.6 L390.1 337.6 Z" fill="#2e2f33"/>
<line x1="383.1" y1="336.6" x2="383.1" y2="368.6" stroke="#2e2f33" stroke-width="1.6" />
<path d="M448.8 331.9 L441.6 343.7 L456.0 343.7 Z" fill="#2e2f33"/>
<line x1="448.8" y1="342.7" x2="448.8" y2="411.3" stroke="#2e2f33" stroke-width="1.6" />
<path d="M519.6 331.9 L512.4 343.7 L526.8000000000001 343.7 Z" fill="#2e2f33"/>
<line x1="519.6" y1="342.7" x2="519.6" y2="368.6" stroke="#2e2f33" stroke-width="1.6" />
<path d="M586.6 331.9 L579.4 343.7 L593.8000000000001 343.7 Z" fill="#2e2f33"/>
<line x1="586.6" y1="342.7" x2="586.6" y2="411.3" stroke="#2e2f33" stroke-width="1.6" />
<path d="M669.9 331.4 L662.9 345.0 L676.9 345.0 Z" fill="#2e2f33"/>
<line x1="669.9" y1="344.0" x2="669.9" y2="368.6" stroke="#2e2f33" stroke-width="1.6" />
<path d="M723.2 330.6 L716.2 344.4 L730.2 344.4 Z" fill="#2e2f33"/>
<line x1="723.2" y1="343.4" x2="723.2" y2="411.3" stroke="#2e2f33" stroke-width="1.6" />
<path d="M768.3 330.6 L761.3 344.4 L775.3 344.4 Z" fill="#2e2f33"/>
<line x1="768.3" y1="343.4" x2="768.3" y2="368.6" stroke="#2e2f33" stroke-width="1.6" />
<path d="M818.8 330.6 L811.8 344.4 L825.8 344.4 Z" fill="#2e2f33"/>
<line x1="818.8" y1="343.4" x2="818.8" y2="411.3" stroke="#2e2f33" stroke-width="1.6" />
<path d="M862.5 330.6 L855.5 344.4 L869.5 344.4 Z" fill="#2e2f33"/>
<line x1="862.5" y1="343.4" x2="862.5" y2="368.6" stroke="#2e2f33" stroke-width="1.6" />
<path d="M979.1 330.2 L972.1 343.4 L986.1 343.4 Z" fill="#2e2f33"/>
<line x1="979.1" y1="342.4" x2="979.1" y2="411.3" stroke="#2e2f33" stroke-width="1.6" />
<text x="122.06" y="386.80" font-size="18.3" textLength="65.46" lengthAdjust="spacingAndGlyphs" fill="#2b2b2f" >F<tspan dy="-2.1">_</tspan><tspan dy="2.1">AUDIO</tspan></text>
<text x="354.38" y="386.80" font-size="18.3" textLength="56.14" lengthAdjust="spacingAndGlyphs" fill="#2b2b2f" >LED<tspan dy="-2.1">_</tspan><tspan dy="2.1">C1</tspan></text>
<text x="491.14" y="386.80" font-size="18.3" textLength="57.82" lengthAdjust="spacingAndGlyphs" fill="#2b2b2f" >F<tspan dy="-2.1">_</tspan><tspan dy="2.1">USB2</tspan></text>
<text x="617.45" y="386.80" font-size="18.3" textLength="98.08" lengthAdjust="spacingAndGlyphs" fill="#2b2b2f" >QFLASH<tspan dy="-2.1">_</tspan><tspan dy="2.1">PLUS</tspan></text>
<text x="733.32" y="386.80" font-size="18.3" textLength="76.74" lengthAdjust="spacingAndGlyphs" fill="#2b2b2f" >SYS<tspan dy="-2.1">_</tspan><tspan dy="2.1">FAN2</tspan></text>
<text x="827.42" y="386.80" font-size="18.3" textLength="127.56" lengthAdjust="spacingAndGlyphs" fill="#2b2b2f" >SYS<tspan dy="-2.1">_</tspan><tspan dy="2.1">FAN4</tspan><tspan dy="-2.1">_</tspan><tspan dy="2.1">PUMP</tspan></text>
<text x="299.68" y="430.80" font-size="18.3" textLength="56.04" lengthAdjust="spacingAndGlyphs" fill="#2b2b2f" >D<tspan dy="-2.1">_</tspan><tspan dy="2.1">LED1</tspan></text>
<text x="420.11" y="430.80" font-size="18.3" textLength="64.73" lengthAdjust="spacingAndGlyphs" fill="#2b2b2f" >SPI<tspan dy="-2.1">_</tspan><tspan dy="2.1">TPM</tspan></text>
<text x="563.59" y="430.80" font-size="18.3" textLength="55.52" lengthAdjust="spacingAndGlyphs" fill="#2b2b2f" >F<tspan dy="-2.1">_</tspan><tspan dy="2.1">USB1</tspan></text>
<text x="685.43" y="430.80" font-size="18.3" textLength="74.98" lengthAdjust="spacingAndGlyphs" fill="#2b2b2f" >SYS<tspan dy="-2.1">_</tspan><tspan dy="2.1">FAN1</tspan></text>
<text x="778.83" y="430.80" font-size="18.3" textLength="75.83" lengthAdjust="spacingAndGlyphs" fill="#2b2b2f" >SYS<tspan dy="-2.1">_</tspan><tspan dy="2.1">FAN3</tspan></text>
<text x="947.07" y="430.80" font-size="18.3" textLength="66.42" lengthAdjust="spacingAndGlyphs" fill="#2b2b2f" >F<tspan dy="-2.1">_</tspan><tspan dy="2.1">PANEL</tspan></text>
<path d="M925.0 163.0 C927.5 163.4 935.8 164.8 940.0 165.3 C944.2 165.8 946.9 165.8 950.0 166.1 C953.1 166.4 955.6 166.8 958.5 167.4 C961.4 168.0 963.7 168.7 967.1 169.5 C970.5 170.3 975.5 171.4 979.0 172.5 C982.5 173.6 984.9 174.7 988.4 175.9 C991.9 177.1 996.2 178.3 1000.0 179.7 C1003.8 181.0 1006.4 182.2 1011.1 184.0 C1015.8 185.8 1023.4 189.0 1028.2 190.8 C1033.0 192.6 1036.6 193.3 1040.0 194.7 C1043.4 196.1 1045.7 197.6 1048.5 199.4 C1051.3 201.2 1054.2 203.5 1057.0 205.8 C1059.8 208.2 1062.8 210.7 1065.6 213.5 C1068.4 216.3 1071.8 219.9 1074.1 222.4 C1076.4 224.9 1077.7 226.3 1079.2 228.6 C1080.7 230.9 1082.2 232.7 1083.2 236.0 C1084.2 239.3 1085.3 244.2 1085.2 248.6 C1085.1 253.0 1084.5 258.4 1082.7 262.7 C1080.9 267.0 1078.2 270.9 1074.5 274.4 C1070.8 277.9 1065.6 281.1 1060.5 283.8 C1055.4 286.5 1049.3 288.8 1044.0 290.8 C1038.7 292.8 1034.6 294.0 1028.7 295.8 C1022.8 297.6 1015.6 299.6 1008.8 301.5 C1002.0 303.4 995.0 305.2 988.0 306.9 C981.0 308.6 972.9 310.4 966.6 311.5 C960.3 312.6 955.2 313.3 950.2 313.7 C945.2 314.1 941.5 314.1 936.6 313.8 C931.7 313.6 926.5 313.1 921.0 312.2 C915.5 311.3 909.5 310.6 903.7 308.7 C897.9 306.8 891.6 303.6 886.0 300.8 C880.4 298.1 875.0 295.4 870.0 292.2 C865.0 289.0 860.5 285.4 856.3 281.6 C852.1 277.8 848.2 273.6 845.0 269.2 C841.8 264.8 838.9 259.9 837.0 255.5 C835.1 251.1 834.2 246.9 833.6 243.0 C833.0 239.1 833.0 235.6 833.2 232.0 C833.4 228.4 833.6 225.4 834.6 221.7 C835.6 218.0 837.0 213.5 839.2 209.8 C841.4 206.1 844.5 202.3 847.9 199.3 C851.3 196.3 855.7 194.1 859.9 191.9 C864.1 189.7 868.8 188.2 873.3 185.9 C877.8 183.7 882.2 180.6 886.7 178.4 C891.2 176.2 895.5 174.1 900.0 172.5 C904.5 170.9 909.1 169.9 913.6 168.8 C918.1 167.7 921.6 166.3 927.3 165.9 C933.0 165.5 944.5 166.1 948.0 166.2" fill="none" stroke="#e21c1c" stroke-width="4.6" stroke-linecap="round" stroke-linejoin="round"/>
<path d="M1007.3 244.3 Q1011.5 247.5 1013.6 251.5 Q1014.2 255.4 1012.0 255.5 Q1010.2 255.0 1008.8 253.6 Q1008.2 256.5 1008.3 259.2 Q1009.4 264 1009.7 268.8 Q1010.2 275 1010.1 280.3 Q1009.2 283.2 1007.3 282.8 Q1005.0 282.6 1004.4 280.3 Q1003.4 274 1002.9 268.8 Q1002.3 264 1001.6 260.4 Q1000.2 260.9 999.0 260.4 Q996 260.2 995.2 258.4 Q994.6 256.4 996.5 254.6 Q1000.5 250 1004.4 246.4 Q1005.8 244.0 1007.3 244.3 Z" fill="#e21c1c" stroke="#e21c1c" stroke-width="0.8" stroke-linejoin="round"/>
<path d="M629.4 317.9 L655.0 318.1" fill="none" stroke="#05e539" stroke-width="4.6" stroke-linecap="round"/>
<path d="M647.8 312.6 Q652.5 315 655.6 318.0 Q650.5 321 643.9 322.6" fill="none" stroke="#05e539" stroke-width="4.6" stroke-linecap="round" stroke-linejoin="round"/>
<path d="M655.8 472.0 C655.4 467.7 654.4 453.5 653.6 446.0 C652.9 438.5 651.8 432.7 651.3 427.0 C650.8 421.3 650.6 416.8 650.8 412.0 C651.0 407.2 651.5 401.8 652.5 398.0 C653.5 394.2 655.2 391.5 657.0 389.0 C658.8 386.5 662.4 384.0 663.5 383.0" fill="none" stroke="#05e539" stroke-width="5.4" stroke-linecap="round"/>
<path d="M633.8 395.8 L662.5 383.4 L664.5 383.2 Q666 392 668.8 402.2" fill="none" stroke="#05e539" stroke-width="4.2" stroke-linecap="round" stroke-linejoin="round"/>
<circle cx="0.3" cy="0.2" r="2.2" fill="#000"/>
<circle cx="1093.8" cy="0.2" r="2.2" fill="#000"/>
</svg>
</body></html>
